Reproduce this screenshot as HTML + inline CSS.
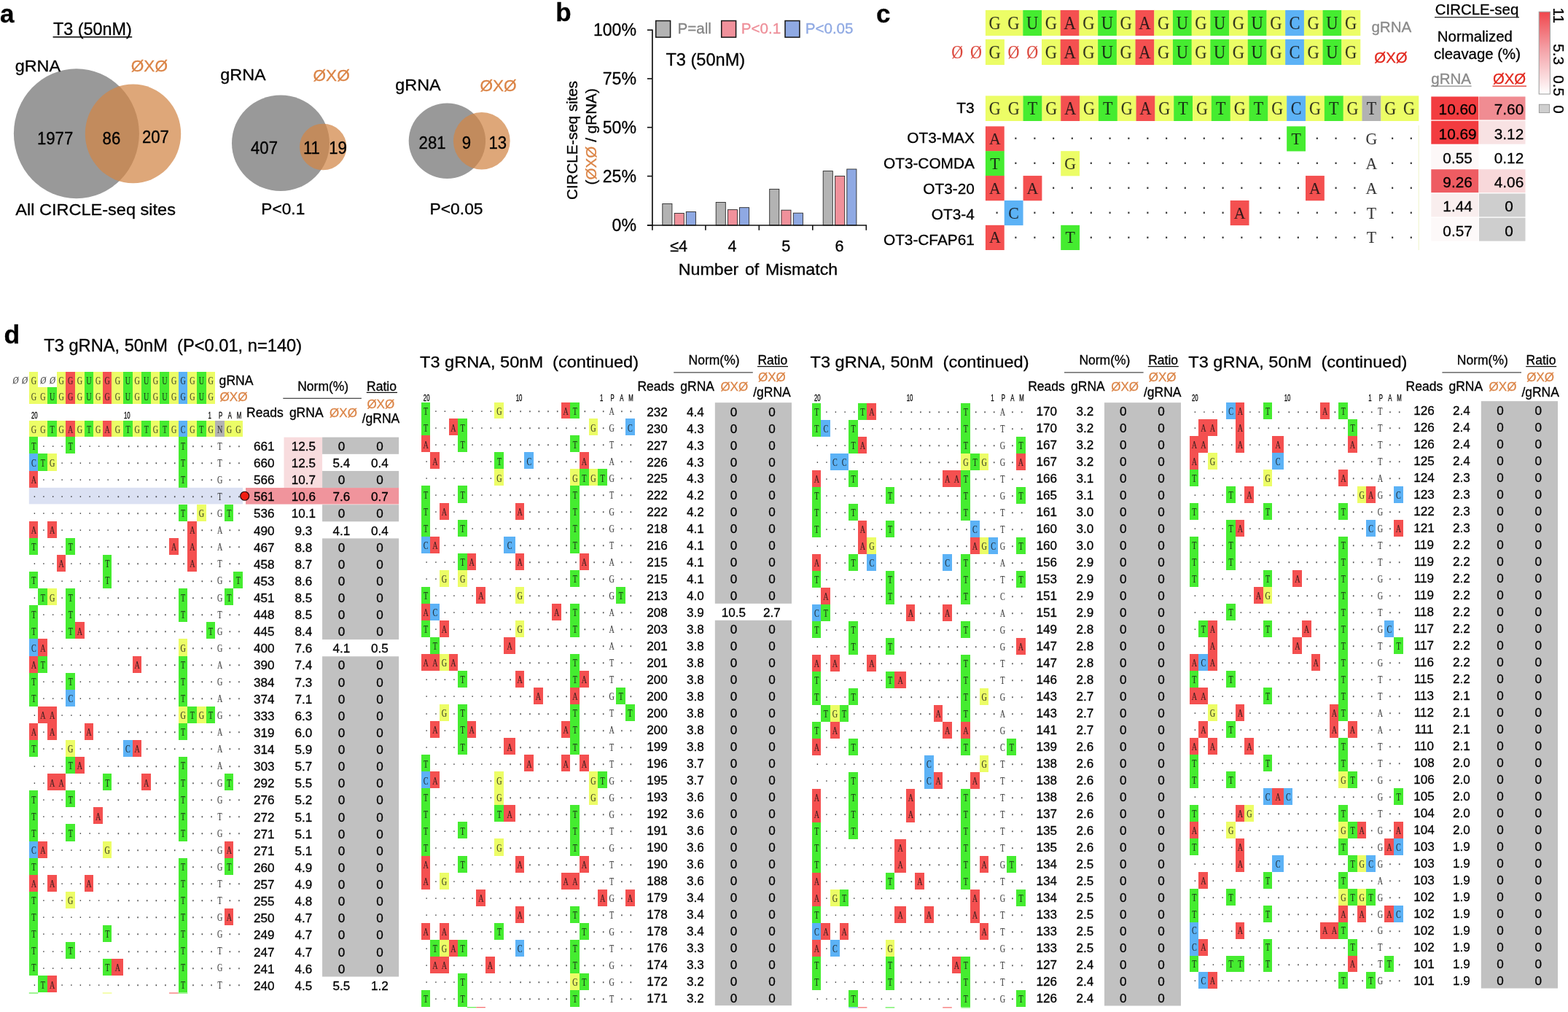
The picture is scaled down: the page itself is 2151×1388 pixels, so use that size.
<!DOCTYPE html>
<html lang="en"><head><meta charset="utf-8"><title>CIRCLE-seq figure</title>
<style>
html,body{margin:0;padding:0;background:#fff}
body{width:2151px;height:1388px;overflow:hidden}
svg{display:block}
text,tspan{fill:var(--c,#000);stroke:var(--c,#000);stroke-width:.3px}
text{font-family:"Liberation Sans", sans-serif;white-space:pre}
.b{font-weight:bold}
.m{font-family:"Liberation Mono", monospace;stroke-width:.12px}
.s{font-family:"Liberation Serif",serif;stroke-width:.1px}
.n{font-family:"Liberation Sans", sans-serif;font-size:12.6px}
.v{font-size:17.1px;text-anchor:middle}
</style></head>
<body>
<svg width="2151" height="1388" viewBox="0 0 2151 1388">
<rect width="2151" height="1388" fill="#fff"/>
<text x="0" y="30.7" class="b" font-size="35">a</text>
<text x="73" y="48.3" font-size="23.4">T3 (50nM)</text>
<line x1="72.6" y1="50.8" x2="181.2" y2="50.8" stroke="#000" stroke-width="1.4"/>
<ellipse cx="104.9" cy="183.2" rx="86" ry="89" fill="#999999"/>
<ellipse cx="182.5" cy="183.4" rx="65.7" ry="67.9" fill="#d18545" fill-opacity="0.72"/>
<text transform="translate(20.7 97.8) scale(1.04 1)" font-size="22.5">gRNA</text>
<text x="179.8" y="98.2" font-size="22.6" style="--c:#db8446">ØXØ</text>
<text transform="translate(75.6 197.8) scale(0.925 1)" font-size="24" text-anchor="middle">1977</text>
<text transform="translate(152.9 197.8) scale(0.925 1)" font-size="24" text-anchor="middle">86</text>
<text transform="translate(213.4 196) scale(0.925 1)" font-size="24" text-anchor="middle">207</text>
<text transform="translate(21.3 294.6) scale(1.08 1)" font-size="21.8">All CIRCLE-seq sites</text>
<ellipse cx="385" cy="196.3" rx="67" ry="65.8" fill="#999999"/>
<ellipse cx="443.2" cy="201.5" rx="32.2" ry="31.8" fill="#d18545" fill-opacity="0.72"/>
<text transform="translate(302.3 110.1) scale(1.04 1)" font-size="22.5">gRNA</text>
<text x="429.5" y="110.5" font-size="22.6" style="--c:#db8446">ØXØ</text>
<text transform="translate(362.5 211) scale(0.925 1)" font-size="24" text-anchor="middle">407</text>
<text transform="translate(427.4 211) scale(0.925 1)" font-size="24" text-anchor="middle">11</text>
<text transform="translate(463.6 211) scale(0.925 1)" font-size="24" text-anchor="middle">19</text>
<text transform="translate(388.3 294.4) scale(1.04 1)" font-size="21.8" text-anchor="middle">P&lt;0.1</text>
<ellipse cx="613.4" cy="193.3" rx="52.7" ry="51.7" fill="#999999"/>
<ellipse cx="660.8" cy="193.3" rx="38.9" ry="39.3" fill="#d18545" fill-opacity="0.72"/>
<text transform="translate(542.3 124.1) scale(1.04 1)" font-size="22.5">gRNA</text>
<text x="658.4" y="124.5" font-size="22.6" style="--c:#db8446">ØXØ</text>
<text transform="translate(593.1 203.5) scale(0.925 1)" font-size="24" text-anchor="middle">281</text>
<text transform="translate(640 203.5) scale(0.925 1)" font-size="24" text-anchor="middle">9</text>
<text transform="translate(682.8 203.5) scale(0.925 1)" font-size="24" text-anchor="middle">13</text>
<text transform="translate(626 294.4) scale(1.05 1)" font-size="21.8" text-anchor="middle">P&lt;0.05</text>
<text x="762.2" y="28.8" class="b" font-size="35">b</text>
<rect x="899.7" y="28.5" width="19.9" height="22.6" fill="#b3b3b3" stroke="#161616" stroke-width="1.5"/>
<text x="929.5" y="46.1" font-size="20.6" style="--c:#858585">P=all</text>
<rect x="989.7" y="28.5" width="19.9" height="22.6" fill="#f0919b" stroke="#161616" stroke-width="1.5"/>
<text x="1016.8" y="46.1" font-size="20.6" style="--c:#ee8f99">P&lt;0.1</text>
<rect x="1077" y="28.5" width="19.9" height="22.6" fill="#8fa9e3" stroke="#161616" stroke-width="1.5"/>
<text x="1104.7" y="46.1" font-size="20.6" style="--c:#8fa9e3">P&lt;0.05</text>
<text x="913.4" y="89.9" font-size="23.6">T3 (50nM)</text>
<rect x="908.8" y="279.5" width="13.1" height="29.5" fill="#b3b3b3" stroke="#2a2a2a" stroke-width="0.9"/>
<rect x="925.2" y="292.5" width="13.1" height="16.5" fill="#f0919b" stroke="#2a2a2a" stroke-width="0.9"/>
<rect x="941.3" y="290.5" width="13.1" height="18.5" fill="#8fa9e3" stroke="#2a2a2a" stroke-width="0.9"/>
<rect x="982.2" y="277.5" width="13.1" height="31.5" fill="#b3b3b3" stroke="#2a2a2a" stroke-width="0.9"/>
<rect x="998.4" y="287.6" width="13.1" height="21.4" fill="#f0919b" stroke="#2a2a2a" stroke-width="0.9"/>
<rect x="1014.5" y="284.7" width="13.1" height="24.3" fill="#8fa9e3" stroke="#2a2a2a" stroke-width="0.9"/>
<rect x="1055.7" y="259.4" width="13.1" height="49.6" fill="#b3b3b3" stroke="#2a2a2a" stroke-width="0.9"/>
<rect x="1071.9" y="288.2" width="13.1" height="20.8" fill="#f0919b" stroke="#2a2a2a" stroke-width="0.9"/>
<rect x="1088.3" y="292.2" width="13.1" height="16.8" fill="#8fa9e3" stroke="#2a2a2a" stroke-width="0.9"/>
<rect x="1129.2" y="234.6" width="13.1" height="74.4" fill="#b3b3b3" stroke="#2a2a2a" stroke-width="0.9"/>
<rect x="1145.6" y="241.5" width="13.1" height="67.5" fill="#f0919b" stroke="#2a2a2a" stroke-width="0.9"/>
<rect x="1161.8" y="232" width="13.1" height="77" fill="#8fa9e3" stroke="#2a2a2a" stroke-width="0.9"/>
<line x1="894.9" y1="40.4" x2="894.9" y2="309.8" stroke="#111" stroke-width="1.7"/>
<line x1="887.9" y1="309" x2="1189" y2="309" stroke="#111" stroke-width="1.7"/>
<line x1="887.9" y1="41.2" x2="894.9" y2="41.2" stroke="#111" stroke-width="1.6"/>
<text x="873" y="49.3" font-size="23.1" text-anchor="end">100%</text>
<line x1="887.9" y1="107.9" x2="894.9" y2="107.9" stroke="#111" stroke-width="1.6"/>
<text x="873" y="116" font-size="23.1" text-anchor="end">75%</text>
<line x1="887.9" y1="174.7" x2="894.9" y2="174.7" stroke="#111" stroke-width="1.6"/>
<text x="873" y="182.8" font-size="23.1" text-anchor="end">50%</text>
<line x1="887.9" y1="241.6" x2="894.9" y2="241.6" stroke="#111" stroke-width="1.6"/>
<text x="873" y="249.7" font-size="23.1" text-anchor="end">25%</text>
<line x1="887.9" y1="309" x2="894.9" y2="309" stroke="#111" stroke-width="1.6"/>
<text x="873" y="317.1" font-size="23.1" text-anchor="end">0%</text>
<line x1="894.9" y1="309" x2="894.9" y2="315.8" stroke="#111" stroke-width="1.6"/>
<line x1="967.9" y1="309" x2="967.9" y2="315.8" stroke="#111" stroke-width="1.6"/>
<line x1="1041.3" y1="309" x2="1041.3" y2="315.8" stroke="#111" stroke-width="1.6"/>
<line x1="1114.8" y1="309" x2="1114.8" y2="315.8" stroke="#111" stroke-width="1.6"/>
<line x1="1188.3" y1="309" x2="1188.3" y2="315.8" stroke="#111" stroke-width="1.6"/>
<text x="931.2" y="344.5" font-size="21.6" text-anchor="middle">≤4</text>
<text x="1004.4" y="344.5" font-size="21.6" text-anchor="middle">4</text>
<text x="1078.2" y="344.5" font-size="21.6" text-anchor="middle">5</text>
<text x="1151.4" y="344.5" font-size="21.6" text-anchor="middle">6</text>
<text transform="translate(1040 377.1) scale(1.07 1)" font-size="21.7" text-anchor="middle" word-spacing="2">Number of Mismatch</text>
<text x="791.6" y="192.4" font-size="20.5" text-anchor="middle" transform="rotate(-90 791.6 192.4)">CIRCLE-seq sites</text>
<text x="818" y="187.3" font-size="20.7" text-anchor="middle" transform="rotate(-90 818 187.3)">(<tspan style="--c:#db8446">ØXØ</tspan> / gRNA)</text>
<text x="1202" y="31.3" class="b" font-size="35">c</text>
<rect x="1351.9" y="13.9" width="51.71" height="35.1" fill="#ecfd66"/>
<rect x="1403.31" y="13.9" width="26" height="35.1" fill="#45ec30"/>
<rect x="1429.02" y="13.9" width="26" height="35.1" fill="#ecfd66"/>
<rect x="1454.72" y="13.9" width="26" height="35.1" fill="#f45050"/>
<rect x="1480.43" y="13.9" width="26" height="35.1" fill="#ecfd66"/>
<rect x="1506.13" y="13.9" width="26" height="35.1" fill="#45ec30"/>
<rect x="1531.84" y="13.9" width="26" height="35.1" fill="#ecfd66"/>
<rect x="1557.54" y="13.9" width="26" height="35.1" fill="#f45050"/>
<rect x="1583.25" y="13.9" width="26" height="35.1" fill="#ecfd66"/>
<rect x="1608.95" y="13.9" width="26" height="35.1" fill="#45ec30"/>
<rect x="1634.66" y="13.9" width="26" height="35.1" fill="#ecfd66"/>
<rect x="1660.36" y="13.9" width="26" height="35.1" fill="#45ec30"/>
<rect x="1686.07" y="13.9" width="26" height="35.1" fill="#ecfd66"/>
<rect x="1711.77" y="13.9" width="26" height="35.1" fill="#45ec30"/>
<rect x="1737.48" y="13.9" width="26" height="35.1" fill="#ecfd66"/>
<rect x="1763.18" y="13.9" width="26" height="35.1" fill="#5cb2f6"/>
<rect x="1788.88" y="13.9" width="26" height="35.1" fill="#ecfd66"/>
<rect x="1814.59" y="13.9" width="26" height="35.1" fill="#45ec30"/>
<rect x="1840.3" y="13.9" width="26" height="35.1" fill="#ecfd66"/>
<text class="s" transform="translate(0 40.2) scale(0.9 1)" x="1516.39 1544.95 1573.51 1602.08 1630.64 1659.2 1687.76 1716.32 1744.88 1773.44 1802 1830.56 1859.12 1887.69 1916.25 1944.81 1973.37 2001.93 2030.49 2059.05" font-size="25" text-anchor="middle" style="--c:#111" opacity="0.85">GGUGAGUGAGUGUGUGCGUG</text>
<rect x="1351.9" y="53.9" width="26" height="35.1" fill="#ecfd66"/>
<rect x="1429.02" y="53.9" width="26" height="35.1" fill="#ecfd66"/>
<rect x="1454.72" y="53.9" width="26" height="35.1" fill="#f45050"/>
<rect x="1480.43" y="53.9" width="26" height="35.1" fill="#ecfd66"/>
<rect x="1506.13" y="53.9" width="26" height="35.1" fill="#45ec30"/>
<rect x="1531.84" y="53.9" width="26" height="35.1" fill="#ecfd66"/>
<rect x="1557.54" y="53.9" width="26" height="35.1" fill="#f45050"/>
<rect x="1583.25" y="53.9" width="26" height="35.1" fill="#ecfd66"/>
<rect x="1608.95" y="53.9" width="26" height="35.1" fill="#45ec30"/>
<rect x="1634.66" y="53.9" width="26" height="35.1" fill="#ecfd66"/>
<rect x="1660.36" y="53.9" width="26" height="35.1" fill="#45ec30"/>
<rect x="1686.07" y="53.9" width="26" height="35.1" fill="#ecfd66"/>
<rect x="1711.77" y="53.9" width="26" height="35.1" fill="#45ec30"/>
<rect x="1737.48" y="53.9" width="26" height="35.1" fill="#ecfd66"/>
<rect x="1763.18" y="53.9" width="26" height="35.1" fill="#5cb2f6"/>
<rect x="1788.88" y="53.9" width="26" height="35.1" fill="#ecfd66"/>
<rect x="1814.59" y="53.9" width="26" height="35.1" fill="#45ec30"/>
<rect x="1840.3" y="53.9" width="26" height="35.1" fill="#ecfd66"/>
<text class="s" transform="translate(0 80.2) scale(0.9 1)" x="1516.39 1602.08 1630.64 1659.2 1687.76 1716.32 1744.88 1773.44 1802 1830.56 1859.12 1887.69 1916.25 1944.81 1973.37 2001.93 2030.49 2059.05" font-size="25" text-anchor="middle" style="--c:#111" opacity="0.85">GGAGUGAGUGUGUGCGUG</text>
<text class="s" transform="translate(0 80) scale(0.9 1)" x="1459.27" font-size="24.5" text-anchor="middle" style="--c:#d8362a" opacity="0.9">Ø</text>
<text class="s" transform="translate(0 80) scale(0.9 1)" x="1487.83" font-size="24.5" text-anchor="middle" style="--c:#d8362a" opacity="0.9">Ø</text>
<text class="s" transform="translate(0 80) scale(0.9 1)" x="1544.95" font-size="24.5" text-anchor="middle" style="--c:#d8362a" opacity="0.9">Ø</text>
<text class="s" transform="translate(0 80) scale(0.9 1)" x="1573.51" font-size="24.5" text-anchor="middle" style="--c:#d8362a" opacity="0.9">Ø</text>
<text x="1881.4" y="43.8" font-size="20.6" style="--c:#8a8a8a">gRNA</text>
<text x="1885.3" y="86.2" font-size="20.4" style="--c:#e2281e">ØXØ</text>
<rect x="1351.9" y="131.4" width="51.96" height="34.6" fill="#ecfd66"/>
<rect x="1403.56" y="131.4" width="26.13" height="34.6" fill="#45ec30"/>
<rect x="1429.39" y="131.4" width="26.13" height="34.6" fill="#ecfd66"/>
<rect x="1455.22" y="131.4" width="26.13" height="34.6" fill="#f45050"/>
<rect x="1481.05" y="131.4" width="26.13" height="34.6" fill="#ecfd66"/>
<rect x="1506.88" y="131.4" width="26.13" height="34.6" fill="#45ec30"/>
<rect x="1532.71" y="131.4" width="26.13" height="34.6" fill="#ecfd66"/>
<rect x="1558.54" y="131.4" width="26.13" height="34.6" fill="#f45050"/>
<rect x="1584.37" y="131.4" width="26.13" height="34.6" fill="#ecfd66"/>
<rect x="1610.2" y="131.4" width="26.13" height="34.6" fill="#45ec30"/>
<rect x="1636.03" y="131.4" width="26.13" height="34.6" fill="#ecfd66"/>
<rect x="1661.86" y="131.4" width="26.13" height="34.6" fill="#45ec30"/>
<rect x="1687.69" y="131.4" width="26.13" height="34.6" fill="#ecfd66"/>
<rect x="1713.52" y="131.4" width="26.13" height="34.6" fill="#45ec30"/>
<rect x="1739.35" y="131.4" width="26.13" height="34.6" fill="#ecfd66"/>
<rect x="1765.18" y="131.4" width="26.13" height="34.6" fill="#5cb2f6"/>
<rect x="1791.01" y="131.4" width="26.13" height="34.6" fill="#ecfd66"/>
<rect x="1816.84" y="131.4" width="26.13" height="34.6" fill="#45ec30"/>
<rect x="1842.67" y="131.4" width="26.13" height="34.6" fill="#ecfd66"/>
<rect x="1868.5" y="131.4" width="26.13" height="34.6" fill="#b2b2b2"/>
<rect x="1894.33" y="131.4" width="51.96" height="34.6" fill="#ecfd66"/>
<text class="s" transform="translate(0 157.3) scale(0.9 1)" x="1516.46 1545.16 1573.86 1602.56 1631.26 1659.96 1688.66 1717.36 1746.06 1774.76 1803.46 1832.16 1860.86 1889.56 1918.26 1946.96 1975.66 2004.36 2033.06 2061.76 2090.46 2119.16 2147.86" font-size="24.5" text-anchor="middle" style="--c:#111" opacity="0.85">GGTGAGTGAGTGTGTGCGTGTGG</text>
<text x="1336.8" y="154.8" font-size="21" text-anchor="end">T3</text>
<line x1="1946.2" y1="172" x2="1946.2" y2="343" stroke="#eef4c8" stroke-width="1"/>
<rect x="1351.9" y="173.3" width="25.83" height="34.18" fill="#f45050"/>
<rect x="1765.18" y="173.3" width="25.83" height="34.18" fill="#45ec30"/>
<text class="s" transform="translate(0 197.9) scale(0.95 1)" x="1436.65 1871.68 1980.44" font-size="23" text-anchor="middle" style="--c:#111" opacity="0.85">ATG</text>
<text class="m" transform="translate(1354.7 194.3) scale(1 1)" x="7.81" font-size="17" letter-spacing="15.63" style="--c:#111" opacity="0.85"> ··············· ··· ··</text>
<text x="1336.8" y="196.3" font-size="20.8" text-anchor="end">OT3-MAX</text>
<rect x="1351.9" y="207.18" width="25.83" height="34.18" fill="#45ec30"/>
<rect x="1455.22" y="207.18" width="25.83" height="34.18" fill="#ecfd66"/>
<text class="s" transform="translate(0 231.78) scale(0.95 1)" x="1436.65 1545.41 1980.44" font-size="23" text-anchor="middle" style="--c:#111" opacity="0.85">TGA</text>
<text class="m" transform="translate(1354.7 228.18) scale(1 1)" x="7.81" font-size="17" letter-spacing="15.63" style="--c:#111" opacity="0.85"> ··· ··············· ··</text>
<text x="1336.8" y="231.2" font-size="20.8" text-anchor="end">OT3-COMDA</text>
<rect x="1351.9" y="241.06" width="25.83" height="34.18" fill="#f45050"/>
<rect x="1403.56" y="241.06" width="25.83" height="34.18" fill="#f45050"/>
<rect x="1791.01" y="241.06" width="25.83" height="34.18" fill="#f45050"/>
<text class="s" transform="translate(0 265.66) scale(0.95 1)" x="1436.65 1491.03 1898.87 1980.44" font-size="23" text-anchor="middle" style="--c:#111" opacity="0.85">AAAA</text>
<text class="m" transform="translate(1354.7 262.06) scale(1 1)" x="7.81" font-size="17" letter-spacing="15.63" style="--c:#111" opacity="0.85"> · ·············· ·· ··</text>
<text x="1336.8" y="266.1" font-size="20.8" text-anchor="end">OT3-20</text>
<rect x="1377.73" y="274.94" width="25.83" height="34.18" fill="#5cb2f6"/>
<rect x="1687.69" y="274.94" width="25.83" height="34.18" fill="#f45050"/>
<text class="s" transform="translate(0 299.54) scale(0.95 1)" x="1463.84 1790.11 1980.44" font-size="23" text-anchor="middle" style="--c:#111" opacity="0.85">CAT</text>
<text class="m" transform="translate(1354.7 295.94) scale(1 1)" x="7.81" font-size="17" letter-spacing="15.63" style="--c:#111" opacity="0.85">· ··········· ······ ··</text>
<text x="1336.8" y="301" font-size="20.8" text-anchor="end">OT3-4</text>
<rect x="1351.9" y="308.82" width="25.83" height="34.18" fill="#f45050"/>
<rect x="1455.22" y="308.82" width="25.83" height="34.18" fill="#45ec30"/>
<text class="s" transform="translate(0 333.42) scale(0.95 1)" x="1436.65 1545.41 1980.44" font-size="23" text-anchor="middle" style="--c:#111" opacity="0.85">ATT</text>
<text class="m" transform="translate(1354.7 329.82) scale(1 1)" x="7.81" font-size="17" letter-spacing="15.63" style="--c:#111" opacity="0.85"> ··· ··············· ··</text>
<text x="1336.8" y="335.9" font-size="20.8" text-anchor="end">OT3-CFAP61</text>
<defs><linearGradient id="cb" x1="0" y1="0" x2="0" y2="1"><stop offset="0" stop-color="#f0464c"/><stop offset="0.45" stop-color="#f4a0a6"/><stop offset="1" stop-color="#ffffff"/></linearGradient></defs>
<rect x="1963.3" y="132.5" width="65" height="31.9" fill="#f23c40"/>
<rect x="2029" y="132.5" width="63.5" height="31.9" fill="#f08c92"/>
<text x="1999.6" y="157.4" font-size="20.8" text-anchor="middle">10.60</text>
<text x="2070" y="157.4" font-size="20.8" text-anchor="middle">7.60</text>
<rect x="1963.3" y="165.75" width="65" height="31.9" fill="#f23c40"/>
<rect x="2029" y="165.75" width="63.5" height="31.9" fill="#f8e2e3"/>
<text x="1999.6" y="190.65" font-size="20.8" text-anchor="middle">10.69</text>
<text x="2070" y="190.65" font-size="20.8" text-anchor="middle">3.12</text>
<rect x="1963.3" y="199" width="65" height="31.9" fill="#fdf8f8"/>
<rect x="2029" y="199" width="63.5" height="31.9" fill="#ffffff"/>
<text x="1999.6" y="223.9" font-size="20.8" text-anchor="middle">0.55</text>
<text x="2070" y="223.9" font-size="20.8" text-anchor="middle">0.12</text>
<rect x="1963.3" y="232.25" width="65" height="31.9" fill="#ee5c62"/>
<rect x="2029" y="232.25" width="63.5" height="31.9" fill="#f8d8da"/>
<text x="1999.6" y="257.15" font-size="20.8" text-anchor="middle">9.26</text>
<text x="2070" y="257.15" font-size="20.8" text-anchor="middle">4.06</text>
<rect x="1963.3" y="265.5" width="65" height="31.9" fill="#f9eeee"/>
<rect x="2029" y="265.5" width="63.5" height="31.9" fill="#cecece"/>
<text x="1999.6" y="290.4" font-size="20.8" text-anchor="middle">1.44</text>
<text x="2070" y="290.4" font-size="20.8" text-anchor="middle">0</text>
<rect x="1963.3" y="298.75" width="65" height="31.9" fill="#fdf9f9"/>
<rect x="2029" y="298.75" width="63.5" height="31.9" fill="#cecece"/>
<text x="1999.6" y="323.65" font-size="20.8" text-anchor="middle">0.57</text>
<text x="2070" y="323.65" font-size="20.8" text-anchor="middle">0</text>
<text x="1968.8" y="19.7" font-size="20.4">CIRCLE-seq</text>
<line x1="1968" y1="23.6" x2="2084" y2="23.6" stroke="#222" stroke-width="1.4"/>
<text x="2023.4" y="56.7" font-size="20.4" text-anchor="middle">Normalized</text>
<text x="2026.5" y="81.4" font-size="20.4" text-anchor="middle">cleavage (%)</text>
<text x="1963.3" y="115" font-size="20.5" style="--c:#8a8a8a">gRNA</text>
<line x1="1963" y1="118.2" x2="2018.6" y2="118.2" stroke="#8a8a8a" stroke-width="1.3"/>
<text x="2047.9" y="115" font-size="20.4" style="--c:#e2281e">ØXØ</text>
<line x1="2047.5" y1="118.2" x2="2094" y2="118.2" stroke="#e2281e" stroke-width="1.3"/>
<rect x="2111.2" y="16.2" width="15.2" height="112.8" fill="url(#cb)" stroke="#9a9a9a" stroke-width="1"/>
<rect x="2111.4" y="143.3" width="14.2" height="11.3" fill="#cfcfcf" stroke="#9a9a9a" stroke-width="1"/>
<text x="2130.6" y="21.2" font-size="20.6" text-anchor="middle" transform="rotate(90 2130.6 21.2)">11</text>
<text x="2130.6" y="74.6" font-size="20.6" text-anchor="middle" transform="rotate(90 2130.6 74.6)">5.3</text>
<text x="2130.6" y="117.6" font-size="20.6" text-anchor="middle" transform="rotate(90 2130.6 117.6)">0.5</text>
<text x="2130.6" y="150.1" font-size="20.6" text-anchor="middle" transform="rotate(90 2130.6 150.1)">0</text>
<text x="5.4" y="471.1" class="b" font-size="35.5">d</text>
<text transform="translate(60.2 481.5) scale(1.03 1)" font-size="23">T3 gRNA, 50nM  (P&lt;0.01, n=140)</text>
<rect x="40" y="510" width="12" height="21" fill="#ecfd66"/>
<rect x="78" y="510" width="12" height="21" fill="#ecfd66"/>
<rect x="90" y="510" width="13" height="21" fill="#f45050"/>
<rect x="103" y="510" width="13" height="21" fill="#ecfd66"/>
<rect x="116" y="510" width="12" height="21" fill="#45ec30"/>
<rect x="128" y="510" width="13" height="21" fill="#ecfd66"/>
<rect x="141" y="510" width="12" height="21" fill="#f45050"/>
<rect x="153" y="510" width="16" height="21" fill="#ecfd66"/>
<rect x="169" y="510" width="13" height="21" fill="#45ec30"/>
<rect x="182" y="510" width="12" height="21" fill="#ecfd66"/>
<rect x="194" y="510" width="13" height="21" fill="#45ec30"/>
<rect x="207" y="510" width="12" height="21" fill="#ecfd66"/>
<rect x="219" y="510" width="13" height="21" fill="#45ec30"/>
<rect x="232" y="510" width="13" height="21" fill="#ecfd66"/>
<rect x="245" y="510" width="12" height="21" fill="#5cb2f6"/>
<rect x="257" y="510" width="13" height="21" fill="#ecfd66"/>
<rect x="270" y="510" width="13" height="21" fill="#45ec30"/>
<rect x="283" y="510" width="12" height="21" fill="#ecfd66"/>
<rect x="40" y="531" width="25" height="23" fill="#ecfd66"/>
<rect x="65" y="531" width="13" height="23" fill="#45ec30"/>
<rect x="78" y="531" width="12" height="23" fill="#ecfd66"/>
<rect x="90" y="531" width="13" height="23" fill="#f45050"/>
<rect x="103" y="531" width="13" height="23" fill="#ecfd66"/>
<rect x="116" y="531" width="12" height="23" fill="#45ec30"/>
<rect x="128" y="531" width="13" height="23" fill="#ecfd66"/>
<rect x="141" y="531" width="12" height="23" fill="#f45050"/>
<rect x="153" y="531" width="16" height="23" fill="#ecfd66"/>
<rect x="169" y="531" width="13" height="23" fill="#45ec30"/>
<rect x="182" y="531" width="12" height="23" fill="#ecfd66"/>
<rect x="194" y="531" width="13" height="23" fill="#45ec30"/>
<rect x="207" y="531" width="12" height="23" fill="#ecfd66"/>
<rect x="219" y="531" width="13" height="23" fill="#45ec30"/>
<rect x="232" y="531" width="13" height="23" fill="#ecfd66"/>
<rect x="245" y="531" width="12" height="23" fill="#5cb2f6"/>
<rect x="257" y="531" width="13" height="23" fill="#ecfd66"/>
<rect x="270" y="531" width="13" height="23" fill="#45ec30"/>
<rect x="283" y="531" width="12" height="23" fill="#ecfd66"/>
<text class="s" transform="translate(0 526.6) scale(0.72 1)" x="64.32 116.9 134.43 151.96 169.49 187.01 204.54 224.15 243.76 261.29 278.82 296.35 313.87 331.4 348.93 366.46 383.99 401.51" font-size="14.1" text-anchor="middle" style="--c:#141414" opacity="0.8">GGGGUGGGUGUGUGGGUG</text>
<text class="s" transform="translate(0 548.6) scale(0.72 1)" x="64.32 81.85 99.38 116.9 134.43 151.96 169.49 187.01 204.54 224.15 243.76 261.29 278.82 296.35 313.87 331.4 348.93 366.46 383.99 401.51" font-size="14.1" text-anchor="middle" style="--c:#141414" opacity="0.8">GGUGGGUGGGUGUGUGGGUG</text>
<text class="s" transform="translate(20.87 526.3) scale(0.8 1) skewX(-12)" text-anchor="middle" font-size="13.6" style="--c:#444">Ø</text>
<text class="s" transform="translate(33.49 526.3) scale(0.8 1) skewX(-12)" text-anchor="middle" font-size="13.6" style="--c:#444">Ø</text>
<text class="s" transform="translate(58.73 526.3) scale(0.8 1) skewX(-12)" text-anchor="middle" font-size="13.6" style="--c:#444">Ø</text>
<text class="s" transform="translate(71.35 526.3) scale(0.8 1) skewX(-12)" text-anchor="middle" font-size="13.6" style="--c:#444">Ø</text>
<text x="300.6" y="527.6" font-size="17.6">gRNA</text>
<text x="301.5" y="549.6" font-size="17.2" style="--c:#db8446">ØXØ</text>
<text class="n" transform="translate(47.31 573.6) scale(0.62 1)" text-anchor="middle">20</text>
<text class="n" transform="translate(174.31 573.6) scale(0.62 1)" text-anchor="middle">10</text>
<text class="n" transform="translate(287.69 573.6) scale(0.62 1)" text-anchor="middle">1</text>
<text class="n" transform="translate(302.71 573.6) scale(0.62 1)" text-anchor="middle">P</text>
<text class="n" transform="translate(315.33 573.6) scale(0.62 1)" text-anchor="middle">A</text>
<text class="n" transform="translate(327.95 573.6) scale(0.62 1)" text-anchor="middle">M</text>
<rect x="40" y="577" width="25" height="22" fill="#ecfd66"/>
<rect x="65" y="577" width="13" height="22" fill="#45ec30"/>
<rect x="78" y="577" width="12" height="22" fill="#ecfd66"/>
<rect x="90" y="577" width="13" height="22" fill="#f45050"/>
<rect x="103" y="577" width="13" height="22" fill="#ecfd66"/>
<rect x="116" y="577" width="12" height="22" fill="#45ec30"/>
<rect x="128" y="577" width="13" height="22" fill="#ecfd66"/>
<rect x="141" y="577" width="12" height="22" fill="#f45050"/>
<rect x="153" y="577" width="16" height="22" fill="#ecfd66"/>
<rect x="169" y="577" width="13" height="22" fill="#45ec30"/>
<rect x="182" y="577" width="12" height="22" fill="#ecfd66"/>
<rect x="194" y="577" width="13" height="22" fill="#45ec30"/>
<rect x="207" y="577" width="12" height="22" fill="#ecfd66"/>
<rect x="219" y="577" width="13" height="22" fill="#45ec30"/>
<rect x="232" y="577" width="13" height="22" fill="#ecfd66"/>
<rect x="245" y="577" width="12" height="22" fill="#5cb2f6"/>
<rect x="257" y="577" width="13" height="22" fill="#ecfd66"/>
<rect x="270" y="577" width="13" height="22" fill="#45ec30"/>
<rect x="283" y="577" width="12" height="22" fill="#ecfd66"/>
<rect x="295" y="577" width="13" height="22" fill="#b2b2b2"/>
<rect x="308" y="577" width="25" height="22" fill="#ecfd66"/>
<text class="s" transform="translate(0 594.2) scale(0.72 1)" x="64.32 81.85 99.38 116.9 134.43 151.96 169.49 187.01 204.54 224.15 243.76 261.29 278.82 296.35 313.87 331.4 348.93 366.46 383.99 401.51 419.04 436.57 454.1" font-size="14.1" text-anchor="middle" style="--c:#141414" opacity="0.8">GGTGAGTGAGTGTGTGCGTGNGG</text>
<text x="408.2" y="536" font-size="17.5">Norm(%)</text>
<line x1="388.3" y1="546.3" x2="495.9" y2="546.3" stroke="#4a4a4a" stroke-width="1.3"/>
<text x="503.1" y="536" font-size="17.5">Ratio</text>
<line x1="502.8" y1="538.4" x2="545" y2="538.4" stroke="#111" stroke-width="1.2"/>
<text x="503.4" y="559.5" font-size="17" style="--c:#db8446">ØXØ</text>
<text x="496.7" y="580.4" font-size="17.5">/gRNA</text>
<text x="338.1" y="572.3" font-size="17.5">Reads</text>
<text x="396.9" y="572.3" font-size="17.5">gRNA</text>
<text x="452.1" y="572.3" font-size="17" style="--c:#db8446">ØXØ</text>
<rect x="389.5" y="599.7" width="52.6" height="69.36" fill="#f8dcde"/>
<rect x="442.1" y="599.7" width="105" height="23.12" fill="#c1c1c1"/>
<rect x="442.1" y="645.94" width="105" height="23.12" fill="#c1c1c1"/>
<rect x="442.1" y="692.18" width="105" height="23.12" fill="#c1c1c1"/>
<rect x="442.1" y="738.42" width="105" height="138.72" fill="#c1c1c1"/>
<rect x="442.1" y="900.26" width="105" height="439.28" fill="#c1c1c1"/>
<rect x="40" y="599" width="12" height="23" fill="#45ec30"/>
<rect x="90" y="599" width="13" height="23" fill="#45ec30"/>
<rect x="245" y="599" width="12" height="23" fill="#45ec30"/>
<text class="s" transform="translate(0 616.7) scale(0.72 1)" x="64.32 134.43 348.93 419.04" font-size="14.1" text-anchor="middle" style="--c:#141414" opacity="0.85">TTTT</text>
<text class="m" transform="translate(41 614.8) scale(1 1)" x="3.16" font-size="10.5" letter-spacing="6.32" style="--c:#1a1a1a" opacity="0.8"> ··· ····<tspan dx="1.5">·</tspan><tspan dx="1.5">······ ··· ··</tspan></text>
<text x="362.3" y="617.9" class="v">661</text>
<text x="416.4" y="617.9" class="v">12.5</text>
<text x="468.4" y="617.9" class="v">0</text>
<text x="520.9" y="617.9" class="v">0</text>
<rect x="40" y="622" width="12" height="24" fill="#5cb2f6"/>
<rect x="52" y="622" width="13" height="24" fill="#45ec30"/>
<rect x="65" y="622" width="13" height="24" fill="#ecfd66"/>
<rect x="245" y="622" width="12" height="24" fill="#45ec30"/>
<text class="s" transform="translate(0 639.79) scale(0.72 1)" x="64.32 81.85 99.38 348.93 419.04" font-size="14.1" text-anchor="middle" style="--c:#141414" opacity="0.85">CTGTT</text>
<text class="m" transform="translate(41 637.89) scale(1 1)" x="3.16" font-size="10.5" letter-spacing="6.32" style="--c:#1a1a1a" opacity="0.8">   ······<tspan dx="1.5">·</tspan><tspan dx="1.5">······ ··· ··</tspan></text>
<text x="362.3" y="641.02" class="v">660</text>
<text x="416.4" y="641.02" class="v">12.5</text>
<text x="468.4" y="641.02" class="v">5.4</text>
<text x="520.9" y="641.02" class="v">0.4</text>
<rect x="40" y="646" width="12" height="23" fill="#f45050"/>
<rect x="245" y="646" width="12" height="23" fill="#45ec30"/>
<text class="s" transform="translate(0 662.88) scale(0.72 1)" x="64.32 348.93 419.04" font-size="14.1" text-anchor="middle" style="--c:#141414" opacity="0.85">ATG</text>
<text class="m" transform="translate(41 660.98) scale(1 1)" x="3.16" font-size="10.5" letter-spacing="6.32" style="--c:#1a1a1a" opacity="0.8"> ········<tspan dx="1.5">·</tspan><tspan dx="1.5">······ ··· ··</tspan></text>
<text x="362.3" y="664.14" class="v">566</text>
<text x="416.4" y="664.14" class="v">10.7</text>
<text x="468.4" y="664.14" class="v">0</text>
<text x="520.9" y="664.14" class="v">0</text>
<rect x="39.8" y="668.87" width="293.26" height="22.49" fill="#dbe1f3"/>
<rect x="337" y="669.06" width="210.1" height="22.52" fill="#f0949c"/>
<circle cx="335.7" cy="680.27" r="6" fill="#f21d12" stroke="#2a0a0a" stroke-width="1.2"/>
<text class="s" transform="translate(0 685.97) scale(0.72 1)" x="419.04" font-size="14.1" text-anchor="middle" style="--c:#141414" opacity="0.85">T</text>
<text class="m" transform="translate(41 684.07) scale(1 1)" x="3.16" font-size="10.5" letter-spacing="6.32" style="--c:#1a1a1a" opacity="0.8">·········<tspan dx="1.5">·</tspan><tspan dx="1.5">·········· ··</tspan></text>
<text x="362.3" y="687.26" class="v">561</text>
<text x="416.4" y="687.26" class="v">10.6</text>
<text x="468.4" y="687.26" class="v">7.6</text>
<text x="520.9" y="687.26" class="v">0.7</text>
<rect x="245" y="692" width="12" height="23" fill="#45ec30"/>
<rect x="270" y="692" width="13" height="23" fill="#ecfd66"/>
<rect x="308" y="692" width="12" height="23" fill="#45ec30"/>
<text class="s" transform="translate(0 709.06) scale(0.72 1)" x="348.93 383.99 419.04 436.57" font-size="14.1" text-anchor="middle" style="--c:#141414" opacity="0.85">TGGT</text>
<text class="m" transform="translate(41 707.16) scale(1 1)" x="3.16" font-size="10.5" letter-spacing="6.32" style="--c:#1a1a1a" opacity="0.8">·········<tspan dx="1.5">·</tspan><tspan dx="1.5">······ · ·  ·</tspan></text>
<text x="362.3" y="710.38" class="v">536</text>
<text x="416.4" y="710.38" class="v">10.1</text>
<text x="468.4" y="710.38" class="v">0</text>
<text x="520.9" y="710.38" class="v">0</text>
<rect x="40" y="715" width="12" height="23" fill="#f45050"/>
<rect x="65" y="715" width="13" height="23" fill="#f45050"/>
<rect x="257" y="715" width="13" height="23" fill="#f45050"/>
<text class="s" transform="translate(0 732.15) scale(0.72 1)" x="64.32 99.38 366.46 419.04" font-size="14.1" text-anchor="middle" style="--c:#141414" opacity="0.85">AAAA</text>
<text class="m" transform="translate(41 730.25) scale(1 1)" x="3.16" font-size="10.5" letter-spacing="6.32" style="--c:#1a1a1a" opacity="0.8"> · ······<tspan dx="1.5">·</tspan><tspan dx="1.5">······· ·· ··</tspan></text>
<text x="362.3" y="733.5" class="v">490</text>
<text x="416.4" y="733.5" class="v">9.3</text>
<text x="468.4" y="733.5" class="v">4.1</text>
<text x="520.9" y="733.5" class="v">0.4</text>
<rect x="40" y="738" width="12" height="23" fill="#45ec30"/>
<rect x="90" y="738" width="13" height="23" fill="#45ec30"/>
<rect x="232" y="738" width="13" height="23" fill="#f45050"/>
<rect x="257" y="738" width="13" height="23" fill="#f45050"/>
<text class="s" transform="translate(0 755.24) scale(0.72 1)" x="64.32 134.43 331.4 366.46 419.04" font-size="14.1" text-anchor="middle" style="--c:#141414" opacity="0.85">TTAAA</text>
<text class="m" transform="translate(41 753.34) scale(1 1)" x="3.16" font-size="10.5" letter-spacing="6.32" style="--c:#1a1a1a" opacity="0.8"> ··· ····<tspan dx="1.5">·</tspan><tspan dx="1.5">····· · ·· ··</tspan></text>
<text x="362.3" y="756.62" class="v">467</text>
<text x="416.4" y="756.62" class="v">8.8</text>
<text x="468.4" y="756.62" class="v">0</text>
<text x="520.9" y="756.62" class="v">0</text>
<rect x="78" y="761" width="12" height="23" fill="#f45050"/>
<rect x="141" y="761" width="12" height="23" fill="#45ec30"/>
<rect x="257" y="761" width="13" height="23" fill="#f45050"/>
<text class="s" transform="translate(0 778.33) scale(0.72 1)" x="116.9 204.54 366.46 419.04" font-size="14.1" text-anchor="middle" style="--c:#141414" opacity="0.85">ATAT</text>
<text class="m" transform="translate(41 776.43) scale(1 1)" x="3.16" font-size="10.5" letter-spacing="6.32" style="--c:#1a1a1a" opacity="0.8">··· ···· <tspan dx="1.5">·</tspan><tspan dx="1.5">······· ·· ··</tspan></text>
<text x="362.3" y="779.74" class="v">458</text>
<text x="416.4" y="779.74" class="v">8.7</text>
<text x="468.4" y="779.74" class="v">0</text>
<text x="520.9" y="779.74" class="v">0</text>
<rect x="40" y="784" width="12" height="23" fill="#45ec30"/>
<rect x="141" y="784" width="12" height="23" fill="#45ec30"/>
<rect x="320" y="784" width="13" height="23" fill="#45ec30"/>
<text class="s" transform="translate(0 801.42) scale(0.72 1)" x="64.32 204.54 419.04 454.1" font-size="14.1" text-anchor="middle" style="--c:#141414" opacity="0.85">TTGT</text>
<text class="m" transform="translate(41 799.52) scale(1 1)" x="3.16" font-size="10.5" letter-spacing="6.32" style="--c:#1a1a1a" opacity="0.8"> ······· <tspan dx="1.5">·</tspan><tspan dx="1.5">·········· ·</tspan></text>
<text x="362.3" y="802.86" class="v">453</text>
<text x="416.4" y="802.86" class="v">8.6</text>
<text x="468.4" y="802.86" class="v">0</text>
<text x="520.9" y="802.86" class="v">0</text>
<rect x="52" y="807" width="13" height="23" fill="#45ec30"/>
<rect x="65" y="807" width="13" height="23" fill="#ecfd66"/>
<rect x="90" y="807" width="13" height="23" fill="#45ec30"/>
<rect x="245" y="807" width="12" height="23" fill="#45ec30"/>
<rect x="308" y="807" width="12" height="23" fill="#45ec30"/>
<text class="s" transform="translate(0 824.51) scale(0.72 1)" x="81.85 99.38 134.43 348.93 419.04 436.57" font-size="14.1" text-anchor="middle" style="--c:#141414" opacity="0.85">TGTTGT</text>
<text class="m" transform="translate(41 822.61) scale(1 1)" x="3.16" font-size="10.5" letter-spacing="6.32" style="--c:#1a1a1a" opacity="0.8">·  · ····<tspan dx="1.5">·</tspan><tspan dx="1.5">······ ···  ·</tspan></text>
<text x="362.3" y="825.98" class="v">451</text>
<text x="416.4" y="825.98" class="v">8.5</text>
<text x="468.4" y="825.98" class="v">0</text>
<text x="520.9" y="825.98" class="v">0</text>
<rect x="40" y="830" width="12" height="23" fill="#45ec30"/>
<rect x="90" y="830" width="13" height="23" fill="#45ec30"/>
<rect x="245" y="830" width="12" height="23" fill="#45ec30"/>
<text class="s" transform="translate(0 847.6) scale(0.72 1)" x="64.32 134.43 348.93 419.04" font-size="14.1" text-anchor="middle" style="--c:#141414" opacity="0.85">TTTT</text>
<text class="m" transform="translate(41 845.7) scale(1 1)" x="3.16" font-size="10.5" letter-spacing="6.32" style="--c:#1a1a1a" opacity="0.8"> ··· ····<tspan dx="1.5">·</tspan><tspan dx="1.5">······ ··· ··</tspan></text>
<text x="362.3" y="849.1" class="v">448</text>
<text x="416.4" y="849.1" class="v">8.5</text>
<text x="468.4" y="849.1" class="v">0</text>
<text x="520.9" y="849.1" class="v">0</text>
<rect x="40" y="853" width="12" height="23" fill="#45ec30"/>
<rect x="90" y="853" width="13" height="23" fill="#45ec30"/>
<rect x="103" y="853" width="13" height="23" fill="#f45050"/>
<rect x="283" y="853" width="12" height="23" fill="#45ec30"/>
<text class="s" transform="translate(0 870.69) scale(0.72 1)" x="64.32 134.43 151.96 401.51 419.04" font-size="14.1" text-anchor="middle" style="--c:#141414" opacity="0.85">TTATG</text>
<text class="m" transform="translate(41 868.79) scale(1 1)" x="3.16" font-size="10.5" letter-spacing="6.32" style="--c:#1a1a1a" opacity="0.8"> ···  ···<tspan dx="1.5">·</tspan><tspan dx="1.5">·········  ··</tspan></text>
<text x="362.3" y="872.22" class="v">445</text>
<text x="416.4" y="872.22" class="v">8.4</text>
<text x="468.4" y="872.22" class="v">0</text>
<text x="520.9" y="872.22" class="v">0</text>
<rect x="40" y="876" width="12" height="24" fill="#5cb2f6"/>
<rect x="52" y="876" width="13" height="24" fill="#f45050"/>
<rect x="245" y="876" width="12" height="24" fill="#ecfd66"/>
<text class="s" transform="translate(0 893.78) scale(0.72 1)" x="64.32 81.85 348.93 419.04" font-size="14.1" text-anchor="middle" style="--c:#141414" opacity="0.85">CAGG</text>
<text class="m" transform="translate(41 891.88) scale(1 1)" x="3.16" font-size="10.5" letter-spacing="6.32" style="--c:#1a1a1a" opacity="0.8">  ·······<tspan dx="1.5">·</tspan><tspan dx="1.5">······ ··· ··</tspan></text>
<text x="362.3" y="895.34" class="v">400</text>
<text x="416.4" y="895.34" class="v">7.6</text>
<text x="468.4" y="895.34" class="v">4.1</text>
<text x="520.9" y="895.34" class="v">0.5</text>
<rect x="40" y="900" width="12" height="23" fill="#f45050"/>
<rect x="52" y="900" width="13" height="23" fill="#45ec30"/>
<rect x="182" y="900" width="12" height="23" fill="#f45050"/>
<rect x="245" y="900" width="12" height="23" fill="#45ec30"/>
<text class="s" transform="translate(0 916.87) scale(0.72 1)" x="64.32 81.85 261.29 348.93 419.04" font-size="14.1" text-anchor="middle" style="--c:#141414" opacity="0.85">ATATA</text>
<text class="m" transform="translate(41 914.97) scale(1 1)" x="3.16" font-size="10.5" letter-spacing="6.32" style="--c:#1a1a1a" opacity="0.8">  ·······<tspan dx="1.5">·</tspan><tspan dx="1.5">· ···· ··· ··</tspan></text>
<text x="362.3" y="918.46" class="v">390</text>
<text x="416.4" y="918.46" class="v">7.4</text>
<text x="468.4" y="918.46" class="v">0</text>
<text x="520.9" y="918.46" class="v">0</text>
<rect x="40" y="923" width="12" height="23" fill="#45ec30"/>
<rect x="90" y="923" width="13" height="23" fill="#45ec30"/>
<rect x="245" y="923" width="12" height="23" fill="#45ec30"/>
<text class="s" transform="translate(0 939.96) scale(0.72 1)" x="64.32 134.43 348.93 419.04" font-size="14.1" text-anchor="middle" style="--c:#141414" opacity="0.85">TTTG</text>
<text class="m" transform="translate(41 938.06) scale(1 1)" x="3.16" font-size="10.5" letter-spacing="6.32" style="--c:#1a1a1a" opacity="0.8"> ··· ····<tspan dx="1.5">·</tspan><tspan dx="1.5">······ ··· ··</tspan></text>
<text x="362.3" y="941.58" class="v">384</text>
<text x="416.4" y="941.58" class="v">7.3</text>
<text x="468.4" y="941.58" class="v">0</text>
<text x="520.9" y="941.58" class="v">0</text>
<rect x="40" y="946" width="12" height="23" fill="#45ec30"/>
<rect x="90" y="946" width="13" height="23" fill="#5cb2f6"/>
<rect x="245" y="946" width="12" height="23" fill="#45ec30"/>
<text class="s" transform="translate(0 963.05) scale(0.72 1)" x="64.32 134.43 348.93 419.04" font-size="14.1" text-anchor="middle" style="--c:#141414" opacity="0.85">TCTA</text>
<text class="m" transform="translate(41 961.15) scale(1 1)" x="3.16" font-size="10.5" letter-spacing="6.32" style="--c:#1a1a1a" opacity="0.8"> ··· ····<tspan dx="1.5">·</tspan><tspan dx="1.5">······ ··· ··</tspan></text>
<text x="362.3" y="964.7" class="v">374</text>
<text x="416.4" y="964.7" class="v">7.1</text>
<text x="468.4" y="964.7" class="v">0</text>
<text x="520.9" y="964.7" class="v">0</text>
<rect x="52" y="969" width="26" height="23" fill="#f45050"/>
<rect x="245" y="969" width="12" height="23" fill="#ecfd66"/>
<rect x="257" y="969" width="13" height="23" fill="#45ec30"/>
<rect x="270" y="969" width="13" height="23" fill="#ecfd66"/>
<rect x="283" y="969" width="12" height="23" fill="#45ec30"/>
<text class="s" transform="translate(0 986.14) scale(0.72 1)" x="81.85 99.38 348.93 366.46 383.99 401.51 419.04" font-size="14.1" text-anchor="middle" style="--c:#141414" opacity="0.85">AAGTGTG</text>
<text class="m" transform="translate(41 984.24) scale(1 1)" x="3.16" font-size="10.5" letter-spacing="6.32" style="--c:#1a1a1a" opacity="0.8">·  ······<tspan dx="1.5">·</tspan><tspan dx="1.5">······     ··</tspan></text>
<text x="362.3" y="987.82" class="v">333</text>
<text x="416.4" y="987.82" class="v">6.3</text>
<text x="468.4" y="987.82" class="v">0</text>
<text x="520.9" y="987.82" class="v">0</text>
<rect x="40" y="992" width="12" height="23" fill="#f45050"/>
<rect x="65" y="992" width="13" height="23" fill="#f45050"/>
<rect x="116" y="992" width="12" height="23" fill="#f45050"/>
<rect x="245" y="992" width="12" height="23" fill="#45ec30"/>
<text class="s" transform="translate(0 1009.23) scale(0.72 1)" x="64.32 99.38 169.49 348.93 419.04" font-size="14.1" text-anchor="middle" style="--c:#141414" opacity="0.85">AAATA</text>
<text class="m" transform="translate(41 1007.33) scale(1 1)" x="3.16" font-size="10.5" letter-spacing="6.32" style="--c:#1a1a1a" opacity="0.8"> · ··· ··<tspan dx="1.5">·</tspan><tspan dx="1.5">······ ··· ··</tspan></text>
<text x="362.3" y="1010.94" class="v">319</text>
<text x="416.4" y="1010.94" class="v">6.0</text>
<text x="468.4" y="1010.94" class="v">0</text>
<text x="520.9" y="1010.94" class="v">0</text>
<rect x="40" y="1015" width="12" height="23" fill="#45ec30"/>
<rect x="90" y="1015" width="13" height="23" fill="#ecfd66"/>
<rect x="169" y="1015" width="13" height="23" fill="#5cb2f6"/>
<rect x="182" y="1015" width="12" height="23" fill="#f45050"/>
<text class="s" transform="translate(0 1032.32) scale(0.72 1)" x="64.32 134.43 243.76 261.29 419.04" font-size="14.1" text-anchor="middle" style="--c:#141414" opacity="0.85">TGCAA</text>
<text class="m" transform="translate(41 1030.42) scale(1 1)" x="3.16" font-size="10.5" letter-spacing="6.32" style="--c:#1a1a1a" opacity="0.8"> ··· ····<tspan dx="1.5">·</tspan><tspan dx="1.5">  ········ ··</tspan></text>
<text x="362.3" y="1034.06" class="v">314</text>
<text x="416.4" y="1034.06" class="v">5.9</text>
<text x="468.4" y="1034.06" class="v">0</text>
<text x="520.9" y="1034.06" class="v">0</text>
<rect x="90" y="1038" width="13" height="23" fill="#45ec30"/>
<rect x="103" y="1038" width="13" height="23" fill="#f45050"/>
<rect x="245" y="1038" width="12" height="23" fill="#45ec30"/>
<text class="s" transform="translate(0 1055.41) scale(0.72 1)" x="134.43 151.96 348.93 419.04" font-size="14.1" text-anchor="middle" style="--c:#141414" opacity="0.85">TATA</text>
<text class="m" transform="translate(41 1053.51) scale(1 1)" x="3.16" font-size="10.5" letter-spacing="6.32" style="--c:#1a1a1a" opacity="0.8">····  ···<tspan dx="1.5">·</tspan><tspan dx="1.5">······ ··· ··</tspan></text>
<text x="362.3" y="1057.18" class="v">303</text>
<text x="416.4" y="1057.18" class="v">5.7</text>
<text x="468.4" y="1057.18" class="v">0</text>
<text x="520.9" y="1057.18" class="v">0</text>
<rect x="65" y="1061" width="25" height="23" fill="#f45050"/>
<rect x="141" y="1061" width="12" height="23" fill="#45ec30"/>
<rect x="194" y="1061" width="13" height="23" fill="#f45050"/>
<rect x="245" y="1061" width="12" height="23" fill="#45ec30"/>
<rect x="308" y="1061" width="12" height="23" fill="#45ec30"/>
<text class="s" transform="translate(0 1078.5) scale(0.72 1)" x="99.38 116.9 204.54 278.82 348.93 419.04 436.57" font-size="14.1" text-anchor="middle" style="--c:#141414" opacity="0.85">AATATGT</text>
<text class="m" transform="translate(41 1076.6) scale(1 1)" x="3.16" font-size="10.5" letter-spacing="6.32" style="--c:#1a1a1a" opacity="0.8">··  ···· <tspan dx="1.5">·</tspan><tspan dx="1.5">·· ··· ···  ·</tspan></text>
<text x="362.3" y="1080.3" class="v">292</text>
<text x="416.4" y="1080.3" class="v">5.5</text>
<text x="468.4" y="1080.3" class="v">0</text>
<text x="520.9" y="1080.3" class="v">0</text>
<rect x="40" y="1084" width="12" height="23" fill="#45ec30"/>
<rect x="90" y="1084" width="13" height="23" fill="#45ec30"/>
<rect x="245" y="1084" width="12" height="23" fill="#45ec30"/>
<text class="s" transform="translate(0 1101.59) scale(0.72 1)" x="64.32 134.43 348.93 419.04" font-size="14.1" text-anchor="middle" style="--c:#141414" opacity="0.85">TTTG</text>
<text class="m" transform="translate(41 1099.69) scale(1 1)" x="3.16" font-size="10.5" letter-spacing="6.32" style="--c:#1a1a1a" opacity="0.8"> ··· ····<tspan dx="1.5">·</tspan><tspan dx="1.5">······ ··· ··</tspan></text>
<text x="362.3" y="1103.42" class="v">276</text>
<text x="416.4" y="1103.42" class="v">5.2</text>
<text x="468.4" y="1103.42" class="v">0</text>
<text x="520.9" y="1103.42" class="v">0</text>
<rect x="40" y="1107" width="12" height="23" fill="#45ec30"/>
<rect x="128" y="1107" width="13" height="23" fill="#f45050"/>
<rect x="245" y="1107" width="12" height="23" fill="#45ec30"/>
<text class="s" transform="translate(0 1124.68) scale(0.72 1)" x="64.32 187.01 348.93 419.04" font-size="14.1" text-anchor="middle" style="--c:#141414" opacity="0.85">TATT</text>
<text class="m" transform="translate(41 1122.78) scale(1 1)" x="3.16" font-size="10.5" letter-spacing="6.32" style="--c:#1a1a1a" opacity="0.8"> ······ ·<tspan dx="1.5">·</tspan><tspan dx="1.5">······ ··· ··</tspan></text>
<text x="362.3" y="1126.54" class="v">272</text>
<text x="416.4" y="1126.54" class="v">5.1</text>
<text x="468.4" y="1126.54" class="v">0</text>
<text x="520.9" y="1126.54" class="v">0</text>
<rect x="40" y="1130" width="12" height="24" fill="#45ec30"/>
<rect x="90" y="1130" width="13" height="24" fill="#45ec30"/>
<rect x="245" y="1130" width="12" height="24" fill="#45ec30"/>
<text class="s" transform="translate(0 1147.77) scale(0.72 1)" x="64.32 134.43 348.93 419.04" font-size="14.1" text-anchor="middle" style="--c:#141414" opacity="0.85">TTTG</text>
<text class="m" transform="translate(41 1145.87) scale(1 1)" x="3.16" font-size="10.5" letter-spacing="6.32" style="--c:#1a1a1a" opacity="0.8"> ··· ····<tspan dx="1.5">·</tspan><tspan dx="1.5">······ ··· ··</tspan></text>
<text x="362.3" y="1149.66" class="v">271</text>
<text x="416.4" y="1149.66" class="v">5.1</text>
<text x="468.4" y="1149.66" class="v">0</text>
<text x="520.9" y="1149.66" class="v">0</text>
<rect x="40" y="1154" width="12" height="23" fill="#5cb2f6"/>
<rect x="52" y="1154" width="13" height="23" fill="#f45050"/>
<rect x="141" y="1154" width="12" height="23" fill="#ecfd66"/>
<rect x="308" y="1154" width="12" height="23" fill="#f45050"/>
<text class="s" transform="translate(0 1170.86) scale(0.72 1)" x="64.32 81.85 204.54 419.04 436.57" font-size="14.1" text-anchor="middle" style="--c:#141414" opacity="0.85">CAGGA</text>
<text class="m" transform="translate(41 1168.96) scale(1 1)" x="3.16" font-size="10.5" letter-spacing="6.32" style="--c:#1a1a1a" opacity="0.8">  ······ <tspan dx="1.5">·</tspan><tspan dx="1.5">··········  ·</tspan></text>
<text x="362.3" y="1172.78" class="v">271</text>
<text x="416.4" y="1172.78" class="v">5.1</text>
<text x="468.4" y="1172.78" class="v">0</text>
<text x="520.9" y="1172.78" class="v">0</text>
<rect x="40" y="1177" width="12" height="23" fill="#45ec30"/>
<rect x="245" y="1177" width="12" height="23" fill="#45ec30"/>
<rect x="308" y="1177" width="12" height="23" fill="#45ec30"/>
<text class="s" transform="translate(0 1193.95) scale(0.72 1)" x="64.32 348.93 419.04 436.57" font-size="14.1" text-anchor="middle" style="--c:#141414" opacity="0.85">TTGT</text>
<text class="m" transform="translate(41 1192.05) scale(1 1)" x="3.16" font-size="10.5" letter-spacing="6.32" style="--c:#1a1a1a" opacity="0.8"> ········<tspan dx="1.5">·</tspan><tspan dx="1.5">······ ···  ·</tspan></text>
<text x="362.3" y="1195.9" class="v">260</text>
<text x="416.4" y="1195.9" class="v">4.9</text>
<text x="468.4" y="1195.9" class="v">0</text>
<text x="520.9" y="1195.9" class="v">0</text>
<rect x="40" y="1200" width="12" height="23" fill="#f45050"/>
<rect x="65" y="1200" width="13" height="23" fill="#f45050"/>
<rect x="116" y="1200" width="12" height="23" fill="#f45050"/>
<rect x="245" y="1200" width="12" height="23" fill="#45ec30"/>
<text class="s" transform="translate(0 1217.04) scale(0.72 1)" x="64.32 99.38 169.49 348.93 419.04" font-size="14.1" text-anchor="middle" style="--c:#141414" opacity="0.85">AAATT</text>
<text class="m" transform="translate(41 1215.14) scale(1 1)" x="3.16" font-size="10.5" letter-spacing="6.32" style="--c:#1a1a1a" opacity="0.8"> · ··· ··<tspan dx="1.5">·</tspan><tspan dx="1.5">······ ··· ··</tspan></text>
<text x="362.3" y="1219.02" class="v">257</text>
<text x="416.4" y="1219.02" class="v">4.9</text>
<text x="468.4" y="1219.02" class="v">0</text>
<text x="520.9" y="1219.02" class="v">0</text>
<rect x="40" y="1223" width="12" height="23" fill="#45ec30"/>
<rect x="90" y="1223" width="13" height="23" fill="#ecfd66"/>
<rect x="245" y="1223" width="12" height="23" fill="#45ec30"/>
<text class="s" transform="translate(0 1240.13) scale(0.72 1)" x="64.32 134.43 348.93 419.04" font-size="14.1" text-anchor="middle" style="--c:#141414" opacity="0.85">TGTT</text>
<text class="m" transform="translate(41 1238.23) scale(1 1)" x="3.16" font-size="10.5" letter-spacing="6.32" style="--c:#1a1a1a" opacity="0.8"> ··· ····<tspan dx="1.5">·</tspan><tspan dx="1.5">······ ··· ··</tspan></text>
<text x="362.3" y="1242.14" class="v">255</text>
<text x="416.4" y="1242.14" class="v">4.8</text>
<text x="468.4" y="1242.14" class="v">0</text>
<text x="520.9" y="1242.14" class="v">0</text>
<rect x="40" y="1246" width="12" height="23" fill="#45ec30"/>
<rect x="245" y="1246" width="12" height="23" fill="#45ec30"/>
<rect x="308" y="1246" width="12" height="23" fill="#f45050"/>
<text class="s" transform="translate(0 1263.22) scale(0.72 1)" x="64.32 348.93 419.04 436.57" font-size="14.1" text-anchor="middle" style="--c:#141414" opacity="0.85">TTGA</text>
<text class="m" transform="translate(41 1261.32) scale(1 1)" x="3.16" font-size="10.5" letter-spacing="6.32" style="--c:#1a1a1a" opacity="0.8"> ········<tspan dx="1.5">·</tspan><tspan dx="1.5">······ ···  ·</tspan></text>
<text x="362.3" y="1265.26" class="v">250</text>
<text x="416.4" y="1265.26" class="v">4.7</text>
<text x="468.4" y="1265.26" class="v">0</text>
<text x="520.9" y="1265.26" class="v">0</text>
<rect x="40" y="1269" width="12" height="23" fill="#45ec30"/>
<rect x="141" y="1269" width="12" height="23" fill="#45ec30"/>
<rect x="245" y="1269" width="12" height="23" fill="#45ec30"/>
<text class="s" transform="translate(0 1286.31) scale(0.72 1)" x="64.32 204.54 348.93 419.04" font-size="14.1" text-anchor="middle" style="--c:#141414" opacity="0.85">TTTG</text>
<text class="m" transform="translate(41 1284.41) scale(1 1)" x="3.16" font-size="10.5" letter-spacing="6.32" style="--c:#1a1a1a" opacity="0.8"> ······· <tspan dx="1.5">·</tspan><tspan dx="1.5">······ ··· ··</tspan></text>
<text x="362.3" y="1288.38" class="v">249</text>
<text x="416.4" y="1288.38" class="v">4.7</text>
<text x="468.4" y="1288.38" class="v">0</text>
<text x="520.9" y="1288.38" class="v">0</text>
<rect x="40" y="1292" width="12" height="23" fill="#45ec30"/>
<rect x="90" y="1292" width="13" height="23" fill="#45ec30"/>
<rect x="245" y="1292" width="12" height="23" fill="#45ec30"/>
<text class="s" transform="translate(0 1309.4) scale(0.72 1)" x="64.32 134.43 348.93 419.04" font-size="14.1" text-anchor="middle" style="--c:#141414" opacity="0.85">TTTT</text>
<text class="m" transform="translate(41 1307.5) scale(1 1)" x="3.16" font-size="10.5" letter-spacing="6.32" style="--c:#1a1a1a" opacity="0.8"> ··· ····<tspan dx="1.5">·</tspan><tspan dx="1.5">······ ··· ··</tspan></text>
<text x="362.3" y="1311.5" class="v">247</text>
<text x="416.4" y="1311.5" class="v">4.7</text>
<text x="468.4" y="1311.5" class="v">0</text>
<text x="520.9" y="1311.5" class="v">0</text>
<rect x="40" y="1315" width="12" height="23" fill="#45ec30"/>
<rect x="141" y="1315" width="12" height="23" fill="#45ec30"/>
<rect x="153" y="1315" width="16" height="23" fill="#f45050"/>
<rect x="245" y="1315" width="12" height="23" fill="#45ec30"/>
<text class="s" transform="translate(0 1332.49) scale(0.72 1)" x="64.32 204.54 224.15 348.93 419.04" font-size="14.1" text-anchor="middle" style="--c:#141414" opacity="0.85">TTATG</text>
<text class="m" transform="translate(41 1330.59) scale(1 1)" x="3.16" font-size="10.5" letter-spacing="6.32" style="--c:#1a1a1a" opacity="0.8"> ······· <tspan dx="1.5"> </tspan><tspan dx="1.5">······ ··· ··</tspan></text>
<text x="362.3" y="1334.62" class="v">241</text>
<text x="416.4" y="1334.62" class="v">4.6</text>
<text x="468.4" y="1334.62" class="v">0</text>
<text x="520.9" y="1334.62" class="v">0</text>
<rect x="52" y="1338" width="13" height="23" fill="#45ec30"/>
<rect x="65" y="1338" width="13" height="23" fill="#f45050"/>
<rect x="245" y="1338" width="12" height="23" fill="#45ec30"/>
<text class="s" transform="translate(0 1355.58) scale(0.72 1)" x="81.85 99.38 348.93 419.04" font-size="14.1" text-anchor="middle" style="--c:#141414" opacity="0.85">TATT</text>
<text class="m" transform="translate(41 1353.68) scale(1 1)" x="3.16" font-size="10.5" letter-spacing="6.32" style="--c:#1a1a1a" opacity="0.8">·  ······<tspan dx="1.5">·</tspan><tspan dx="1.5">······ ··· ··</tspan></text>
<text x="362.3" y="1357.74" class="v">240</text>
<text x="416.4" y="1357.74" class="v">4.5</text>
<text x="468.4" y="1357.74" class="v">5.5</text>
<text x="520.9" y="1357.74" class="v">1.2</text>
<rect x="39.8" y="1361.37" width="12.62" height="1.3" fill="#45ec30" fill-opacity="0.8"/>
<rect x="140.76" y="1361.37" width="12.62" height="1.3" fill="#ecfd66" fill-opacity="0.8"/>
<rect x="232.1" y="1361.37" width="12.62" height="1.3" fill="#f45050" fill-opacity="0.8"/>
<rect x="244.72" y="1361.37" width="12.62" height="1.3" fill="#45ec30" fill-opacity="0.8"/>
<text transform="translate(576 504.1) scale(1.03 1)" font-size="22.9">T3 gRNA, 50nM  (continued)</text>
<text x="944.6" y="500.2" font-size="17.5">Norm(%)</text>
<line x1="924.2" y1="510.9" x2="1032.8" y2="510.9" stroke="#4a4a4a" stroke-width="1.4"/>
<text x="1039.4" y="500.2" font-size="17.5">Ratio</text>
<line x1="1039" y1="502.6" x2="1081" y2="502.6" stroke="#111" stroke-width="1.2"/>
<text x="1040" y="522.8" font-size="17" style="--c:#db8446">ØXØ</text>
<text x="1033.2" y="543.7" font-size="17.5">/gRNA</text>
<text x="874.4" y="536.2" font-size="17.5">Reads</text>
<text x="933.3" y="536.2" font-size="17.5">gRNA</text>
<text x="988.4" y="536.2" font-size="17" style="--c:#db8446">ØXØ</text>
<text class="n" transform="translate(585.2 549.9) scale(0.62 1)" text-anchor="middle">20</text>
<text class="n" transform="translate(712 549.9) scale(0.62 1)" text-anchor="middle">10</text>
<text class="n" transform="translate(825.2 549.9) scale(0.62 1)" text-anchor="middle">1</text>
<text class="n" transform="translate(840.2 549.9) scale(0.62 1)" text-anchor="middle">P</text>
<text class="n" transform="translate(852.8 549.9) scale(0.62 1)" text-anchor="middle">A</text>
<text class="n" transform="translate(865.4 549.9) scale(0.62 1)" text-anchor="middle">M</text>
<rect x="980.8" y="552.2" width="105.2" height="275.64" fill="#c1c1c1"/>
<rect x="980.8" y="850.81" width="105.2" height="528.31" fill="#c1c1c1"/>
<rect x="578" y="552" width="12" height="22" fill="#45ec30"/>
<rect x="678" y="552" width="13" height="22" fill="#ecfd66"/>
<rect x="770" y="552" width="12" height="22" fill="#f45050"/>
<rect x="782" y="552" width="13" height="22" fill="#45ec30"/>
<text class="s" transform="translate(0 568.5) scale(0.72 1)" x="811.39 951.39 1078.06 1095.56 1165.56" font-size="14.1" text-anchor="middle" style="--c:#141414" opacity="0.85">TGATA</text>
<text class="m" transform="translate(578.9 566.6) scale(1 1)" x="3.15" font-size="10.5" letter-spacing="6.3" style="--c:#1a1a1a" opacity="0.8"> ······· <tspan dx="1.5">·</tspan><tspan dx="1.5">·····  ··· ··</tspan></text>
<text x="901.4" y="570.6" class="v">232</text>
<text x="953.9" y="570.6" class="v">4.4</text>
<text x="1006.5" y="570.6" class="v">0</text>
<text x="1059" y="570.6" class="v">0</text>
<rect x="578" y="574" width="12" height="23" fill="#45ec30"/>
<rect x="616" y="574" width="12" height="23" fill="#f45050"/>
<rect x="628" y="574" width="13" height="23" fill="#45ec30"/>
<rect x="808" y="574" width="12" height="23" fill="#ecfd66"/>
<rect x="858" y="574" width="13" height="23" fill="#5cb2f6"/>
<text class="s" transform="translate(0 591.55) scale(0.72 1)" x="811.39 863.89 881.39 1130.56 1165.56 1200.56" font-size="14.1" text-anchor="middle" style="--c:#141414" opacity="0.85">TATGGC</text>
<text class="m" transform="translate(578.9 589.65) scale(1 1)" x="3.15" font-size="10.5" letter-spacing="6.3" style="--c:#1a1a1a" opacity="0.8"> ··  ····<tspan dx="1.5">·</tspan><tspan dx="1.5">········ · ·</tspan></text>
<text x="901.4" y="593.57" class="v">230</text>
<text x="953.9" y="593.57" class="v">4.3</text>
<text x="1006.5" y="593.57" class="v">0</text>
<text x="1059" y="593.57" class="v">0</text>
<rect x="578" y="597" width="12" height="23" fill="#f45050"/>
<rect x="628" y="597" width="13" height="23" fill="#45ec30"/>
<rect x="782" y="597" width="13" height="23" fill="#45ec30"/>
<text class="s" transform="translate(0 614.6) scale(0.72 1)" x="811.39 881.39 1095.56 1165.56" font-size="14.1" text-anchor="middle" style="--c:#141414" opacity="0.85">ATTT</text>
<text class="m" transform="translate(578.9 612.7) scale(1 1)" x="3.15" font-size="10.5" letter-spacing="6.3" style="--c:#1a1a1a" opacity="0.8"> ··· ····<tspan dx="1.5">·</tspan><tspan dx="1.5">······ ··· ··</tspan></text>
<text x="901.4" y="616.54" class="v">227</text>
<text x="953.9" y="616.54" class="v">4.3</text>
<text x="1006.5" y="616.54" class="v">0</text>
<text x="1059" y="616.54" class="v">0</text>
<rect x="590" y="620" width="13" height="23" fill="#f45050"/>
<rect x="678" y="620" width="13" height="23" fill="#45ec30"/>
<rect x="719" y="620" width="13" height="23" fill="#5cb2f6"/>
<rect x="795" y="620" width="13" height="23" fill="#f45050"/>
<text class="s" transform="translate(0 637.65) scale(0.72 1)" x="828.89 951.39 1008.06 1113.06 1165.56" font-size="14.1" text-anchor="middle" style="--c:#141414" opacity="0.85">ATCAA</text>
<text class="m" transform="translate(578.9 635.75) scale(1 1)" x="3.15" font-size="10.5" letter-spacing="6.3" style="--c:#1a1a1a" opacity="0.8">· ······ <tspan dx="1.5">·</tspan><tspan dx="1.5">· ····· ·· ··</tspan></text>
<text x="901.4" y="639.51" class="v">226</text>
<text x="953.9" y="639.51" class="v">4.3</text>
<text x="1006.5" y="639.51" class="v">0</text>
<text x="1059" y="639.51" class="v">0</text>
<rect x="678" y="643" width="13" height="23" fill="#ecfd66"/>
<rect x="782" y="643" width="13" height="23" fill="#ecfd66"/>
<rect x="795" y="643" width="13" height="23" fill="#45ec30"/>
<rect x="808" y="643" width="12" height="23" fill="#ecfd66"/>
<rect x="820" y="643" width="13" height="23" fill="#45ec30"/>
<text class="s" transform="translate(0 660.7) scale(0.72 1)" x="951.39 1095.56 1113.06 1130.56 1148.06 1165.56" font-size="14.1" text-anchor="middle" style="--c:#141414" opacity="0.85">GGTGTG</text>
<text class="m" transform="translate(578.9 658.8) scale(1 1)" x="3.15" font-size="10.5" letter-spacing="6.3" style="--c:#1a1a1a" opacity="0.8">········ <tspan dx="1.5">·</tspan><tspan dx="1.5">······     ··</tspan></text>
<text x="901.4" y="662.48" class="v">225</text>
<text x="953.9" y="662.48" class="v">4.3</text>
<text x="1006.5" y="662.48" class="v">0</text>
<text x="1059" y="662.48" class="v">0</text>
<rect x="578" y="666" width="12" height="24" fill="#45ec30"/>
<rect x="628" y="666" width="13" height="24" fill="#45ec30"/>
<rect x="782" y="666" width="13" height="24" fill="#45ec30"/>
<text class="s" transform="translate(0 683.75) scale(0.72 1)" x="811.39 881.39 1095.56 1165.56" font-size="14.1" text-anchor="middle" style="--c:#141414" opacity="0.85">TTTT</text>
<text class="m" transform="translate(578.9 681.85) scale(1 1)" x="3.15" font-size="10.5" letter-spacing="6.3" style="--c:#1a1a1a" opacity="0.8"> ··· ····<tspan dx="1.5">·</tspan><tspan dx="1.5">······ ··· ··</tspan></text>
<text x="901.4" y="685.45" class="v">222</text>
<text x="953.9" y="685.45" class="v">4.2</text>
<text x="1006.5" y="685.45" class="v">0</text>
<text x="1059" y="685.45" class="v">0</text>
<rect x="578" y="690" width="12" height="23" fill="#45ec30"/>
<rect x="603" y="690" width="13" height="23" fill="#f45050"/>
<rect x="707" y="690" width="12" height="23" fill="#f45050"/>
<rect x="782" y="690" width="13" height="23" fill="#45ec30"/>
<text class="s" transform="translate(0 706.8) scale(0.72 1)" x="811.39 846.39 990.56 1095.56 1165.56" font-size="14.1" text-anchor="middle" style="--c:#141414" opacity="0.85">TAATG</text>
<text class="m" transform="translate(578.9 704.9) scale(1 1)" x="3.15" font-size="10.5" letter-spacing="6.3" style="--c:#1a1a1a" opacity="0.8"> · ······<tspan dx="1.5">·</tspan><tspan dx="1.5"> ····· ··· ··</tspan></text>
<text x="901.4" y="708.42" class="v">222</text>
<text x="953.9" y="708.42" class="v">4.2</text>
<text x="1006.5" y="708.42" class="v">0</text>
<text x="1059" y="708.42" class="v">0</text>
<rect x="578" y="713" width="12" height="23" fill="#45ec30"/>
<rect x="628" y="713" width="13" height="23" fill="#45ec30"/>
<rect x="782" y="713" width="13" height="23" fill="#45ec30"/>
<text class="s" transform="translate(0 729.85) scale(0.72 1)" x="811.39 881.39 1095.56 1165.56" font-size="14.1" text-anchor="middle" style="--c:#141414" opacity="0.85">TTTG</text>
<text class="m" transform="translate(578.9 727.95) scale(1 1)" x="3.15" font-size="10.5" letter-spacing="6.3" style="--c:#1a1a1a" opacity="0.8"> ··· ····<tspan dx="1.5">·</tspan><tspan dx="1.5">······ ··· ··</tspan></text>
<text x="901.4" y="731.39" class="v">218</text>
<text x="953.9" y="731.39" class="v">4.1</text>
<text x="1006.5" y="731.39" class="v">0</text>
<text x="1059" y="731.39" class="v">0</text>
<rect x="578" y="736" width="12" height="23" fill="#5cb2f6"/>
<rect x="590" y="736" width="13" height="23" fill="#f45050"/>
<rect x="691" y="736" width="16" height="23" fill="#5cb2f6"/>
<rect x="782" y="736" width="13" height="23" fill="#45ec30"/>
<text class="s" transform="translate(0 752.9) scale(0.72 1)" x="811.39 828.89 970.97 1095.56 1165.56" font-size="14.1" text-anchor="middle" style="--c:#141414" opacity="0.85">CACTT</text>
<text class="m" transform="translate(578.9 751) scale(1 1)" x="3.15" font-size="10.5" letter-spacing="6.3" style="--c:#1a1a1a" opacity="0.8">  ·······<tspan dx="1.5"> </tspan><tspan dx="1.5">······ ··· ··</tspan></text>
<text x="901.4" y="754.36" class="v">216</text>
<text x="953.9" y="754.36" class="v">4.1</text>
<text x="1006.5" y="754.36" class="v">0</text>
<text x="1059" y="754.36" class="v">0</text>
<rect x="628" y="759" width="13" height="23" fill="#45ec30"/>
<rect x="641" y="759" width="12" height="23" fill="#f45050"/>
<rect x="707" y="759" width="12" height="23" fill="#f45050"/>
<rect x="795" y="759" width="13" height="23" fill="#f45050"/>
<text class="s" transform="translate(0 775.95) scale(0.72 1)" x="881.39 898.89 990.56 1113.06 1165.56" font-size="14.1" text-anchor="middle" style="--c:#141414" opacity="0.85">TAAAA</text>
<text class="m" transform="translate(578.9 774.05) scale(1 1)" x="3.15" font-size="10.5" letter-spacing="6.3" style="--c:#1a1a1a" opacity="0.8">····  ···<tspan dx="1.5">·</tspan><tspan dx="1.5"> ······ ·· ··</tspan></text>
<text x="901.4" y="777.33" class="v">215</text>
<text x="953.9" y="777.33" class="v">4.1</text>
<text x="1006.5" y="777.33" class="v">0</text>
<text x="1059" y="777.33" class="v">0</text>
<rect x="603" y="782" width="13" height="23" fill="#ecfd66"/>
<rect x="628" y="782" width="13" height="23" fill="#ecfd66"/>
<rect x="782" y="782" width="13" height="23" fill="#45ec30"/>
<text class="s" transform="translate(0 799) scale(0.72 1)" x="846.39 881.39 1095.56 1165.56" font-size="14.1" text-anchor="middle" style="--c:#141414" opacity="0.85">GGTG</text>
<text class="m" transform="translate(578.9 797.1) scale(1 1)" x="3.15" font-size="10.5" letter-spacing="6.3" style="--c:#1a1a1a" opacity="0.8">·· · ····<tspan dx="1.5">·</tspan><tspan dx="1.5">······ ··· ··</tspan></text>
<text x="901.4" y="800.3" class="v">215</text>
<text x="953.9" y="800.3" class="v">4.1</text>
<text x="1006.5" y="800.3" class="v">0</text>
<text x="1059" y="800.3" class="v">0</text>
<rect x="578" y="805" width="12" height="23" fill="#45ec30"/>
<rect x="653" y="805" width="13" height="23" fill="#f45050"/>
<rect x="707" y="805" width="12" height="23" fill="#ecfd66"/>
<rect x="845" y="805" width="13" height="23" fill="#45ec30"/>
<text class="s" transform="translate(0 822.05) scale(0.72 1)" x="811.39 916.39 990.56 1165.56 1183.06" font-size="14.1" text-anchor="middle" style="--c:#141414" opacity="0.85">TAGGT</text>
<text class="m" transform="translate(578.9 820.15) scale(1 1)" x="3.15" font-size="10.5" letter-spacing="6.3" style="--c:#1a1a1a" opacity="0.8"> ····· ··<tspan dx="1.5">·</tspan><tspan dx="1.5"> ·········  ·</tspan></text>
<text x="901.4" y="823.27" class="v">213</text>
<text x="953.9" y="823.27" class="v">4.0</text>
<text x="1006.5" y="823.27" class="v">0</text>
<text x="1059" y="823.27" class="v">0</text>
<rect x="578" y="828" width="12" height="23" fill="#f45050"/>
<rect x="590" y="828" width="13" height="23" fill="#5cb2f6"/>
<rect x="757" y="828" width="13" height="23" fill="#f45050"/>
<rect x="782" y="828" width="13" height="23" fill="#45ec30"/>
<text class="s" transform="translate(0 845.1) scale(0.72 1)" x="811.39 828.89 1060.56 1095.56 1165.56" font-size="14.1" text-anchor="middle" style="--c:#141414" opacity="0.85">ACATA</text>
<text class="m" transform="translate(578.9 843.2) scale(1 1)" x="3.15" font-size="10.5" letter-spacing="6.3" style="--c:#1a1a1a" opacity="0.8">  ·······<tspan dx="1.5">·</tspan><tspan dx="1.5">···· · ··· ··</tspan></text>
<text x="901.4" y="846.24" class="v">208</text>
<text x="953.9" y="846.24" class="v">3.9</text>
<text x="1006.5" y="846.24" class="v">10.5</text>
<text x="1059" y="846.24" class="v">2.7</text>
<rect x="578" y="851" width="12" height="23" fill="#45ec30"/>
<rect x="603" y="851" width="13" height="23" fill="#f45050"/>
<rect x="707" y="851" width="12" height="23" fill="#ecfd66"/>
<rect x="782" y="851" width="13" height="23" fill="#45ec30"/>
<text class="s" transform="translate(0 868.15) scale(0.72 1)" x="811.39 846.39 990.56 1095.56 1165.56" font-size="14.1" text-anchor="middle" style="--c:#141414" opacity="0.85">TAGTA</text>
<text class="m" transform="translate(578.9 866.25) scale(1 1)" x="3.15" font-size="10.5" letter-spacing="6.3" style="--c:#1a1a1a" opacity="0.8"> · ······<tspan dx="1.5">·</tspan><tspan dx="1.5"> ····· ··· ··</tspan></text>
<text x="901.4" y="869.21" class="v">203</text>
<text x="953.9" y="869.21" class="v">3.8</text>
<text x="1006.5" y="869.21" class="v">0</text>
<text x="1059" y="869.21" class="v">0</text>
<rect x="590" y="874" width="13" height="23" fill="#45ec30"/>
<rect x="691" y="874" width="16" height="23" fill="#f45050"/>
<text class="s" transform="translate(0 891.2) scale(0.72 1)" x="828.89 970.97 1165.56" font-size="14.1" text-anchor="middle" style="--c:#141414" opacity="0.85">TAA</text>
<text class="m" transform="translate(578.9 889.3) scale(1 1)" x="3.15" font-size="10.5" letter-spacing="6.3" style="--c:#1a1a1a" opacity="0.8">· ·······<tspan dx="1.5"> </tspan><tspan dx="1.5">·········· ··</tspan></text>
<text x="901.4" y="892.18" class="v">201</text>
<text x="953.9" y="892.18" class="v">3.8</text>
<text x="1006.5" y="892.18" class="v">0</text>
<text x="1059" y="892.18" class="v">0</text>
<rect x="578" y="897" width="25" height="23" fill="#f45050"/>
<rect x="603" y="897" width="13" height="23" fill="#ecfd66"/>
<rect x="616" y="897" width="12" height="23" fill="#f45050"/>
<rect x="782" y="897" width="13" height="23" fill="#45ec30"/>
<text class="s" transform="translate(0 914.25) scale(0.72 1)" x="811.39 828.89 846.39 863.89 1095.56 1165.56" font-size="14.1" text-anchor="middle" style="--c:#141414" opacity="0.85">AAGATT</text>
<text class="m" transform="translate(578.9 912.35) scale(1 1)" x="3.15" font-size="10.5" letter-spacing="6.3" style="--c:#1a1a1a" opacity="0.8">    ·····<tspan dx="1.5">·</tspan><tspan dx="1.5">······ ··· ··</tspan></text>
<text x="901.4" y="915.15" class="v">201</text>
<text x="953.9" y="915.15" class="v">3.8</text>
<text x="1006.5" y="915.15" class="v">0</text>
<text x="1059" y="915.15" class="v">0</text>
<rect x="628" y="920" width="13" height="23" fill="#45ec30"/>
<rect x="707" y="920" width="12" height="23" fill="#f45050"/>
<rect x="782" y="920" width="13" height="23" fill="#45ec30"/>
<rect x="795" y="920" width="13" height="23" fill="#f45050"/>
<text class="s" transform="translate(0 937.3) scale(0.72 1)" x="881.39 990.56 1095.56 1113.06 1165.56" font-size="14.1" text-anchor="middle" style="--c:#141414" opacity="0.85">TATAT</text>
<text class="m" transform="translate(578.9 935.4) scale(1 1)" x="3.15" font-size="10.5" letter-spacing="6.3" style="--c:#1a1a1a" opacity="0.8">···· ····<tspan dx="1.5">·</tspan><tspan dx="1.5"> ·····  ·· ··</tspan></text>
<text x="901.4" y="938.12" class="v">200</text>
<text x="953.9" y="938.12" class="v">3.8</text>
<text x="1006.5" y="938.12" class="v">0</text>
<text x="1059" y="938.12" class="v">0</text>
<rect x="732" y="943" width="13" height="23" fill="#f45050"/>
<rect x="782" y="943" width="13" height="23" fill="#f45050"/>
<rect x="845" y="943" width="13" height="23" fill="#45ec30"/>
<text class="s" transform="translate(0 960.35) scale(0.72 1)" x="1025.56 1095.56 1165.56 1183.06" font-size="14.1" text-anchor="middle" style="--c:#141414" opacity="0.85">AAGT</text>
<text class="m" transform="translate(578.9 958.45) scale(1 1)" x="3.15" font-size="10.5" letter-spacing="6.3" style="--c:#1a1a1a" opacity="0.8">·········<tspan dx="1.5">·</tspan><tspan dx="1.5">·· ··· ···  ·</tspan></text>
<text x="901.4" y="961.09" class="v">200</text>
<text x="953.9" y="961.09" class="v">3.8</text>
<text x="1006.5" y="961.09" class="v">0</text>
<text x="1059" y="961.09" class="v">0</text>
<rect x="603" y="966" width="13" height="23" fill="#ecfd66"/>
<rect x="628" y="966" width="13" height="23" fill="#45ec30"/>
<rect x="782" y="966" width="13" height="23" fill="#45ec30"/>
<rect x="858" y="966" width="13" height="23" fill="#45ec30"/>
<text class="s" transform="translate(0 983.4) scale(0.72 1)" x="846.39 881.39 1095.56 1165.56 1200.56" font-size="14.1" text-anchor="middle" style="--c:#141414" opacity="0.85">GTTTT</text>
<text class="m" transform="translate(578.9 981.5) scale(1 1)" x="3.15" font-size="10.5" letter-spacing="6.3" style="--c:#1a1a1a" opacity="0.8">·· · ····<tspan dx="1.5">·</tspan><tspan dx="1.5">······ ··· ·</tspan></text>
<text x="901.4" y="984.06" class="v">200</text>
<text x="953.9" y="984.06" class="v">3.8</text>
<text x="1006.5" y="984.06" class="v">0</text>
<text x="1059" y="984.06" class="v">0</text>
<rect x="590" y="989" width="13" height="23" fill="#f45050"/>
<rect x="628" y="989" width="13" height="23" fill="#45ec30"/>
<rect x="641" y="989" width="12" height="23" fill="#f45050"/>
<rect x="770" y="989" width="12" height="23" fill="#f45050"/>
<rect x="782" y="989" width="13" height="23" fill="#45ec30"/>
<text class="s" transform="translate(0 1006.45) scale(0.72 1)" x="828.89 881.39 898.89 1078.06 1095.56 1165.56" font-size="14.1" text-anchor="middle" style="--c:#141414" opacity="0.85">ATAATA</text>
<text class="m" transform="translate(578.9 1004.55) scale(1 1)" x="3.15" font-size="10.5" letter-spacing="6.3" style="--c:#1a1a1a" opacity="0.8">· ··  ···<tspan dx="1.5">·</tspan><tspan dx="1.5">·····  ··· ··</tspan></text>
<text x="901.4" y="1007.03" class="v">200</text>
<text x="953.9" y="1007.03" class="v">3.8</text>
<text x="1006.5" y="1007.03" class="v">0</text>
<text x="1059" y="1007.03" class="v">0</text>
<rect x="628" y="1012" width="13" height="23" fill="#45ec30"/>
<rect x="691" y="1012" width="16" height="23" fill="#f45050"/>
<rect x="782" y="1012" width="13" height="23" fill="#45ec30"/>
<text class="s" transform="translate(0 1029.5) scale(0.72 1)" x="881.39 970.97 1095.56 1165.56" font-size="14.1" text-anchor="middle" style="--c:#141414" opacity="0.85">TATT</text>
<text class="m" transform="translate(578.9 1027.6) scale(1 1)" x="3.15" font-size="10.5" letter-spacing="6.3" style="--c:#1a1a1a" opacity="0.8">···· ····<tspan dx="1.5"> </tspan><tspan dx="1.5">······ ··· ··</tspan></text>
<text x="901.4" y="1030" class="v">199</text>
<text x="953.9" y="1030" class="v">3.8</text>
<text x="1006.5" y="1030" class="v">0</text>
<text x="1059" y="1030" class="v">0</text>
<rect x="578" y="1035" width="12" height="23" fill="#45ec30"/>
<rect x="719" y="1035" width="13" height="23" fill="#f45050"/>
<rect x="770" y="1035" width="12" height="23" fill="#f45050"/>
<rect x="795" y="1035" width="13" height="23" fill="#f45050"/>
<text class="s" transform="translate(0 1052.55) scale(0.72 1)" x="811.39 1008.06 1078.06 1113.06 1165.56" font-size="14.1" text-anchor="middle" style="--c:#141414" opacity="0.85">TAAAT</text>
<text class="m" transform="translate(578.9 1050.65) scale(1 1)" x="3.15" font-size="10.5" letter-spacing="6.3" style="--c:#1a1a1a" opacity="0.8"> ········<tspan dx="1.5">·</tspan><tspan dx="1.5">· ··· · ·· ··</tspan></text>
<text x="901.4" y="1052.97" class="v">196</text>
<text x="953.9" y="1052.97" class="v">3.7</text>
<text x="1006.5" y="1052.97" class="v">0</text>
<text x="1059" y="1052.97" class="v">0</text>
<rect x="578" y="1058" width="12" height="23" fill="#5cb2f6"/>
<rect x="590" y="1058" width="13" height="23" fill="#f45050"/>
<rect x="678" y="1058" width="13" height="23" fill="#ecfd66"/>
<rect x="808" y="1058" width="12" height="23" fill="#ecfd66"/>
<rect x="820" y="1058" width="13" height="23" fill="#45ec30"/>
<text class="s" transform="translate(0 1075.6) scale(0.72 1)" x="811.39 828.89 951.39 1130.56 1148.06 1165.56" font-size="14.1" text-anchor="middle" style="--c:#141414" opacity="0.85">CAGGTG</text>
<text class="m" transform="translate(578.9 1073.7) scale(1 1)" x="3.15" font-size="10.5" letter-spacing="6.3" style="--c:#1a1a1a" opacity="0.8">  ······ <tspan dx="1.5">·</tspan><tspan dx="1.5">········   ··</tspan></text>
<text x="901.4" y="1075.94" class="v">195</text>
<text x="953.9" y="1075.94" class="v">3.7</text>
<text x="1006.5" y="1075.94" class="v">0</text>
<text x="1059" y="1075.94" class="v">0</text>
<rect x="578" y="1081" width="12" height="23" fill="#45ec30"/>
<rect x="678" y="1081" width="13" height="23" fill="#ecfd66"/>
<rect x="808" y="1081" width="12" height="23" fill="#ecfd66"/>
<text class="s" transform="translate(0 1098.65) scale(0.72 1)" x="811.39 951.39 1130.56 1165.56" font-size="14.1" text-anchor="middle" style="--c:#141414" opacity="0.85">TGGG</text>
<text class="m" transform="translate(578.9 1096.75) scale(1 1)" x="3.15" font-size="10.5" letter-spacing="6.3" style="--c:#1a1a1a" opacity="0.8"> ······· <tspan dx="1.5">·</tspan><tspan dx="1.5">········ · ··</tspan></text>
<text x="901.4" y="1098.91" class="v">193</text>
<text x="953.9" y="1098.91" class="v">3.6</text>
<text x="1006.5" y="1098.91" class="v">0</text>
<text x="1059" y="1098.91" class="v">0</text>
<rect x="578" y="1104" width="12" height="23" fill="#45ec30"/>
<rect x="678" y="1104" width="13" height="23" fill="#45ec30"/>
<rect x="691" y="1104" width="16" height="23" fill="#f45050"/>
<rect x="782" y="1104" width="13" height="23" fill="#45ec30"/>
<text class="s" transform="translate(0 1121.7) scale(0.72 1)" x="811.39 951.39 970.97 1095.56 1165.56" font-size="14.1" text-anchor="middle" style="--c:#141414" opacity="0.85">TTATG</text>
<text class="m" transform="translate(578.9 1119.8) scale(1 1)" x="3.15" font-size="10.5" letter-spacing="6.3" style="--c:#1a1a1a" opacity="0.8"> ······· <tspan dx="1.5"> </tspan><tspan dx="1.5">······ ··· ··</tspan></text>
<text x="901.4" y="1121.88" class="v">192</text>
<text x="953.9" y="1121.88" class="v">3.6</text>
<text x="1006.5" y="1121.88" class="v">0</text>
<text x="1059" y="1121.88" class="v">0</text>
<rect x="578" y="1127" width="12" height="23" fill="#45ec30"/>
<rect x="628" y="1127" width="13" height="23" fill="#45ec30"/>
<rect x="782" y="1127" width="13" height="23" fill="#45ec30"/>
<text class="s" transform="translate(0 1144.75) scale(0.72 1)" x="811.39 881.39 1095.56 1165.56" font-size="14.1" text-anchor="middle" style="--c:#141414" opacity="0.85">TTTT</text>
<text class="m" transform="translate(578.9 1142.85) scale(1 1)" x="3.15" font-size="10.5" letter-spacing="6.3" style="--c:#1a1a1a" opacity="0.8"> ··· ····<tspan dx="1.5">·</tspan><tspan dx="1.5">······ ··· ··</tspan></text>
<text x="901.4" y="1144.85" class="v">191</text>
<text x="953.9" y="1144.85" class="v">3.6</text>
<text x="1006.5" y="1144.85" class="v">0</text>
<text x="1059" y="1144.85" class="v">0</text>
<rect x="578" y="1150" width="12" height="24" fill="#45ec30"/>
<rect x="678" y="1150" width="13" height="24" fill="#ecfd66"/>
<rect x="782" y="1150" width="13" height="24" fill="#45ec30"/>
<text class="s" transform="translate(0 1167.8) scale(0.72 1)" x="811.39 951.39 1095.56 1165.56" font-size="14.1" text-anchor="middle" style="--c:#141414" opacity="0.85">TGTG</text>
<text class="m" transform="translate(578.9 1165.9) scale(1 1)" x="3.15" font-size="10.5" letter-spacing="6.3" style="--c:#1a1a1a" opacity="0.8"> ······· <tspan dx="1.5">·</tspan><tspan dx="1.5">······ ··· ··</tspan></text>
<text x="901.4" y="1167.82" class="v">190</text>
<text x="953.9" y="1167.82" class="v">3.6</text>
<text x="1006.5" y="1167.82" class="v">0</text>
<text x="1059" y="1167.82" class="v">0</text>
<rect x="578" y="1174" width="12" height="23" fill="#f45050"/>
<rect x="628" y="1174" width="13" height="23" fill="#45ec30"/>
<rect x="707" y="1174" width="12" height="23" fill="#f45050"/>
<rect x="795" y="1174" width="13" height="23" fill="#f45050"/>
<text class="s" transform="translate(0 1190.85) scale(0.72 1)" x="811.39 881.39 990.56 1113.06 1165.56" font-size="14.1" text-anchor="middle" style="--c:#141414" opacity="0.85">ATAAT</text>
<text class="m" transform="translate(578.9 1188.95) scale(1 1)" x="3.15" font-size="10.5" letter-spacing="6.3" style="--c:#1a1a1a" opacity="0.8"> ··· ····<tspan dx="1.5">·</tspan><tspan dx="1.5"> ······ ·· ··</tspan></text>
<text x="901.4" y="1190.79" class="v">190</text>
<text x="953.9" y="1190.79" class="v">3.6</text>
<text x="1006.5" y="1190.79" class="v">0</text>
<text x="1059" y="1190.79" class="v">0</text>
<rect x="578" y="1197" width="12" height="23" fill="#f45050"/>
<rect x="603" y="1197" width="13" height="23" fill="#ecfd66"/>
<rect x="770" y="1197" width="25" height="23" fill="#f45050"/>
<text class="s" transform="translate(0 1213.9) scale(0.72 1)" x="811.39 846.39 1078.06 1095.56 1165.56" font-size="14.1" text-anchor="middle" style="--c:#141414" opacity="0.85">AGAAT</text>
<text class="m" transform="translate(578.9 1212) scale(1 1)" x="3.15" font-size="10.5" letter-spacing="6.3" style="--c:#1a1a1a" opacity="0.8"> · ······<tspan dx="1.5">·</tspan><tspan dx="1.5">·····  ··· ··</tspan></text>
<text x="901.4" y="1213.76" class="v">188</text>
<text x="953.9" y="1213.76" class="v">3.6</text>
<text x="1006.5" y="1213.76" class="v">0</text>
<text x="1059" y="1213.76" class="v">0</text>
<rect x="653" y="1220" width="13" height="23" fill="#f45050"/>
<rect x="820" y="1220" width="13" height="23" fill="#f45050"/>
<rect x="858" y="1220" width="13" height="23" fill="#f45050"/>
<text class="s" transform="translate(0 1236.95) scale(0.72 1)" x="916.39 1148.06 1165.56 1200.56" font-size="14.1" text-anchor="middle" style="--c:#141414" opacity="0.85">AAGA</text>
<text class="m" transform="translate(578.9 1235.05) scale(1 1)" x="3.15" font-size="10.5" letter-spacing="6.3" style="--c:#1a1a1a" opacity="0.8">······ ··<tspan dx="1.5">·</tspan><tspan dx="1.5">·········  ·</tspan></text>
<text x="901.4" y="1236.73" class="v">179</text>
<text x="953.9" y="1236.73" class="v">3.4</text>
<text x="1006.5" y="1236.73" class="v">0</text>
<text x="1059" y="1236.73" class="v">0</text>
<rect x="707" y="1243" width="12" height="23" fill="#f45050"/>
<rect x="782" y="1243" width="13" height="23" fill="#45ec30"/>
<text class="s" transform="translate(0 1260) scale(0.72 1)" x="990.56 1095.56 1165.56" font-size="14.1" text-anchor="middle" style="--c:#141414" opacity="0.85">ATT</text>
<text class="m" transform="translate(578.9 1258.1) scale(1 1)" x="3.15" font-size="10.5" letter-spacing="6.3" style="--c:#1a1a1a" opacity="0.8">·········<tspan dx="1.5">·</tspan><tspan dx="1.5"> ····· ··· ··</tspan></text>
<text x="901.4" y="1259.7" class="v">178</text>
<text x="953.9" y="1259.7" class="v">3.4</text>
<text x="1006.5" y="1259.7" class="v">0</text>
<text x="1059" y="1259.7" class="v">0</text>
<rect x="578" y="1266" width="12" height="23" fill="#f45050"/>
<rect x="603" y="1266" width="13" height="23" fill="#f45050"/>
<rect x="678" y="1266" width="13" height="23" fill="#45ec30"/>
<rect x="795" y="1266" width="13" height="23" fill="#45ec30"/>
<text class="s" transform="translate(0 1283.05) scale(0.72 1)" x="811.39 846.39 951.39 1113.06 1165.56" font-size="14.1" text-anchor="middle" style="--c:#141414" opacity="0.85">AATTG</text>
<text class="m" transform="translate(578.9 1281.15) scale(1 1)" x="3.15" font-size="10.5" letter-spacing="6.3" style="--c:#1a1a1a" opacity="0.8"> · ····· <tspan dx="1.5">·</tspan><tspan dx="1.5">······· ·· ··</tspan></text>
<text x="901.4" y="1282.67" class="v">178</text>
<text x="953.9" y="1282.67" class="v">3.4</text>
<text x="1006.5" y="1282.67" class="v">0</text>
<text x="1059" y="1282.67" class="v">0</text>
<rect x="590" y="1289" width="13" height="23" fill="#45ec30"/>
<rect x="603" y="1289" width="13" height="23" fill="#ecfd66"/>
<rect x="616" y="1289" width="12" height="23" fill="#f45050"/>
<rect x="628" y="1289" width="13" height="23" fill="#45ec30"/>
<rect x="707" y="1289" width="12" height="23" fill="#5cb2f6"/>
<rect x="782" y="1289" width="13" height="23" fill="#45ec30"/>
<text class="s" transform="translate(0 1306.1) scale(0.72 1)" x="828.89 846.39 863.89 881.39 990.56 1095.56 1165.56" font-size="14.1" text-anchor="middle" style="--c:#141414" opacity="0.85">TGATCTT</text>
<text class="m" transform="translate(578.9 1304.2) scale(1 1)" x="3.15" font-size="10.5" letter-spacing="6.3" style="--c:#1a1a1a" opacity="0.8">·    ····<tspan dx="1.5">·</tspan><tspan dx="1.5"> ····· ··· ··</tspan></text>
<text x="901.4" y="1305.64" class="v">176</text>
<text x="953.9" y="1305.64" class="v">3.3</text>
<text x="1006.5" y="1305.64" class="v">0</text>
<text x="1059" y="1305.64" class="v">0</text>
<rect x="590" y="1312" width="26" height="23" fill="#f45050"/>
<rect x="666" y="1312" width="13" height="23" fill="#f45050"/>
<rect x="782" y="1312" width="13" height="23" fill="#45ec30"/>
<text class="s" transform="translate(0 1329.15) scale(0.72 1)" x="828.89 846.39 933.89 1095.56 1165.56" font-size="14.1" text-anchor="middle" style="--c:#141414" opacity="0.85">AAATG</text>
<text class="m" transform="translate(578.9 1327.25) scale(1 1)" x="3.15" font-size="10.5" letter-spacing="6.3" style="--c:#1a1a1a" opacity="0.8">·  ···· ·<tspan dx="1.5">·</tspan><tspan dx="1.5">······ ··· ··</tspan></text>
<text x="901.4" y="1328.61" class="v">174</text>
<text x="953.9" y="1328.61" class="v">3.3</text>
<text x="1006.5" y="1328.61" class="v">0</text>
<text x="1059" y="1328.61" class="v">0</text>
<rect x="628" y="1335" width="13" height="23" fill="#45ec30"/>
<rect x="782" y="1335" width="13" height="23" fill="#ecfd66"/>
<rect x="795" y="1335" width="13" height="23" fill="#45ec30"/>
<text class="s" transform="translate(0 1352.2) scale(0.72 1)" x="881.39 1095.56 1113.06 1165.56" font-size="14.1" text-anchor="middle" style="--c:#141414" opacity="0.85">TGTG</text>
<text class="m" transform="translate(578.9 1350.3) scale(1 1)" x="3.15" font-size="10.5" letter-spacing="6.3" style="--c:#1a1a1a" opacity="0.8">···· ····<tspan dx="1.5">·</tspan><tspan dx="1.5">······  ·· ··</tspan></text>
<text x="901.4" y="1351.58" class="v">172</text>
<text x="953.9" y="1351.58" class="v">3.2</text>
<text x="1006.5" y="1351.58" class="v">0</text>
<text x="1059" y="1351.58" class="v">0</text>
<rect x="578" y="1358" width="12" height="23" fill="#45ec30"/>
<rect x="628" y="1358" width="13" height="23" fill="#45ec30"/>
<rect x="782" y="1358" width="13" height="23" fill="#45ec30"/>
<text class="s" transform="translate(0 1375.25) scale(0.72 1)" x="811.39 881.39 1095.56 1165.56" font-size="14.1" text-anchor="middle" style="--c:#141414" opacity="0.85">TTTT</text>
<text class="m" transform="translate(578.9 1373.35) scale(1 1)" x="3.15" font-size="10.5" letter-spacing="6.3" style="--c:#1a1a1a" opacity="0.8"> ··· ····<tspan dx="1.5">·</tspan><tspan dx="1.5">······ ··· ··</tspan></text>
<text x="901.4" y="1374.55" class="v">171</text>
<text x="953.9" y="1374.55" class="v">3.2</text>
<text x="1006.5" y="1374.55" class="v">0</text>
<text x="1059" y="1374.55" class="v">0</text>
<rect x="640.7" y="1381" width="12.6" height="1.3" fill="#45ec30" fill-opacity="0.8"/>
<rect x="653.3" y="1381" width="12.6" height="1.3" fill="#f45050" fill-opacity="0.8"/>
<text transform="translate(1111.5 504.1) scale(1.03 1)" font-size="22.9">T3 gRNA, 50nM  (continued)</text>
<text x="1480.4" y="500.2" font-size="17.5">Norm(%)</text>
<line x1="1460" y1="510.9" x2="1568.6" y2="510.9" stroke="#4a4a4a" stroke-width="1.4"/>
<text x="1575.2" y="500.2" font-size="17.5">Ratio</text>
<line x1="1574.8" y1="502.6" x2="1616.8" y2="502.6" stroke="#111" stroke-width="1.2"/>
<text x="1575.8" y="522.8" font-size="17" style="--c:#db8446">ØXØ</text>
<text x="1569" y="543.7" font-size="17.5">/gRNA</text>
<text x="1410.2" y="536.2" font-size="17.5">Reads</text>
<text x="1469.1" y="536.2" font-size="17.5">gRNA</text>
<text x="1524.2" y="536.2" font-size="17" style="--c:#db8446">ØXØ</text>
<text class="n" transform="translate(1121.3 550.3) scale(0.62 1)" text-anchor="middle">20</text>
<text class="n" transform="translate(1248.1 550.3) scale(0.62 1)" text-anchor="middle">10</text>
<text class="n" transform="translate(1361.3 550.3) scale(0.62 1)" text-anchor="middle">1</text>
<text class="n" transform="translate(1376.3 550.3) scale(0.62 1)" text-anchor="middle">P</text>
<text class="n" transform="translate(1388.9 550.3) scale(0.62 1)" text-anchor="middle">A</text>
<text class="n" transform="translate(1401.5 550.3) scale(0.62 1)" text-anchor="middle">M</text>
<rect x="1515" y="552.2" width="105" height="827.28" fill="#c1c1c1"/>
<rect x="1114" y="553" width="12" height="23" fill="#45ec30"/>
<rect x="1177" y="553" width="12" height="23" fill="#45ec30"/>
<rect x="1189" y="553" width="13" height="23" fill="#f45050"/>
<rect x="1318" y="553" width="13" height="23" fill="#45ec30"/>
<text class="s" transform="translate(0 569.8) scale(0.72 1)" x="1555.97 1643.47 1660.97 1840.14 1910.14" font-size="14.1" text-anchor="middle" style="--c:#141414" opacity="0.85">TTATA</text>
<text class="m" transform="translate(1115 567.9) scale(1 1)" x="3.15" font-size="10.5" letter-spacing="6.3" style="--c:#1a1a1a" opacity="0.8"> ····  ··<tspan dx="1.5">·</tspan><tspan dx="1.5">······ ··· ··</tspan></text>
<text x="1435.8" y="570.4" class="v">170</text>
<text x="1488.3" y="570.4" class="v">3.2</text>
<text x="1540.8" y="570.4" class="v">0</text>
<text x="1593.1" y="570.4" class="v">0</text>
<rect x="1114" y="576" width="12" height="23" fill="#45ec30"/>
<rect x="1126" y="576" width="13" height="23" fill="#5cb2f6"/>
<rect x="1164" y="576" width="13" height="23" fill="#45ec30"/>
<rect x="1318" y="576" width="13" height="23" fill="#45ec30"/>
<text class="s" transform="translate(0 592.8) scale(0.72 1)" x="1555.97 1573.47 1625.97 1840.14 1910.14" font-size="14.1" text-anchor="middle" style="--c:#141414" opacity="0.85">TCTTT</text>
<text class="m" transform="translate(1115 590.9) scale(1 1)" x="3.15" font-size="10.5" letter-spacing="6.3" style="--c:#1a1a1a" opacity="0.8">  ·· ····<tspan dx="1.5">·</tspan><tspan dx="1.5">······ ··· ··</tspan></text>
<text x="1435.8" y="593.38" class="v">170</text>
<text x="1488.3" y="593.38" class="v">3.2</text>
<text x="1540.8" y="593.38" class="v">0</text>
<text x="1593.1" y="593.38" class="v">0</text>
<rect x="1164" y="599" width="13" height="23" fill="#45ec30"/>
<rect x="1177" y="599" width="12" height="23" fill="#f45050"/>
<rect x="1318" y="599" width="13" height="23" fill="#45ec30"/>
<rect x="1394" y="599" width="13" height="23" fill="#45ec30"/>
<text class="s" transform="translate(0 615.8) scale(0.72 1)" x="1625.97 1643.47 1840.14 1910.14 1945.14" font-size="14.1" text-anchor="middle" style="--c:#141414" opacity="0.85">TATGT</text>
<text class="m" transform="translate(1115 613.9) scale(1 1)" x="3.15" font-size="10.5" letter-spacing="6.3" style="--c:#1a1a1a" opacity="0.8">····  ···<tspan dx="1.5">·</tspan><tspan dx="1.5">······ ··· ·</tspan></text>
<text x="1435.8" y="616.36" class="v">167</text>
<text x="1488.3" y="616.36" class="v">3.2</text>
<text x="1540.8" y="616.36" class="v">0</text>
<text x="1593.1" y="616.36" class="v">0</text>
<rect x="1139" y="622" width="25" height="23" fill="#5cb2f6"/>
<rect x="1318" y="622" width="13" height="23" fill="#ecfd66"/>
<rect x="1331" y="622" width="13" height="23" fill="#45ec30"/>
<rect x="1344" y="622" width="12" height="23" fill="#ecfd66"/>
<rect x="1394" y="622" width="13" height="23" fill="#f45050"/>
<text class="s" transform="translate(0 638.8) scale(0.72 1)" x="1590.97 1608.47 1840.14 1857.64 1875.14 1910.14 1945.14" font-size="14.1" text-anchor="middle" style="--c:#141414" opacity="0.85">CCGTGGA</text>
<text class="m" transform="translate(1115 636.9) scale(1 1)" x="3.15" font-size="10.5" letter-spacing="6.3" style="--c:#1a1a1a" opacity="0.8">··  ·····<tspan dx="1.5">·</tspan><tspan dx="1.5">······   · ·</tspan></text>
<text x="1435.8" y="639.34" class="v">167</text>
<text x="1488.3" y="639.34" class="v">3.2</text>
<text x="1540.8" y="639.34" class="v">0</text>
<text x="1593.1" y="639.34" class="v">0</text>
<rect x="1114" y="645" width="12" height="23" fill="#f45050"/>
<rect x="1164" y="645" width="13" height="23" fill="#45ec30"/>
<rect x="1293" y="645" width="25" height="23" fill="#f45050"/>
<rect x="1318" y="645" width="13" height="23" fill="#45ec30"/>
<text class="s" transform="translate(0 661.8) scale(0.72 1)" x="1555.97 1625.97 1805.14 1822.64 1840.14 1910.14" font-size="14.1" text-anchor="middle" style="--c:#141414" opacity="0.85">ATAATT</text>
<text class="m" transform="translate(1115 659.9) scale(1 1)" x="3.15" font-size="10.5" letter-spacing="6.3" style="--c:#1a1a1a" opacity="0.8"> ··· ····<tspan dx="1.5">·</tspan><tspan dx="1.5">····   ··· ··</tspan></text>
<text x="1435.8" y="662.32" class="v">166</text>
<text x="1488.3" y="662.32" class="v">3.1</text>
<text x="1540.8" y="662.32" class="v">0</text>
<text x="1593.1" y="662.32" class="v">0</text>
<rect x="1114" y="668" width="12" height="23" fill="#45ec30"/>
<rect x="1215" y="668" width="12" height="23" fill="#45ec30"/>
<rect x="1318" y="668" width="13" height="23" fill="#45ec30"/>
<rect x="1394" y="668" width="13" height="23" fill="#45ec30"/>
<text class="s" transform="translate(0 684.8) scale(0.72 1)" x="1555.97 1695.97 1840.14 1910.14 1945.14" font-size="14.1" text-anchor="middle" style="--c:#141414" opacity="0.85">TTTGT</text>
<text class="m" transform="translate(1115 682.9) scale(1 1)" x="3.15" font-size="10.5" letter-spacing="6.3" style="--c:#1a1a1a" opacity="0.8"> ······· <tspan dx="1.5">·</tspan><tspan dx="1.5">······ ··· ·</tspan></text>
<text x="1435.8" y="685.3" class="v">165</text>
<text x="1488.3" y="685.3" class="v">3.1</text>
<text x="1540.8" y="685.3" class="v">0</text>
<text x="1593.1" y="685.3" class="v">0</text>
<rect x="1114" y="691" width="12" height="23" fill="#45ec30"/>
<rect x="1164" y="691" width="13" height="23" fill="#45ec30"/>
<rect x="1318" y="691" width="13" height="23" fill="#45ec30"/>
<text class="s" transform="translate(0 707.8) scale(0.72 1)" x="1555.97 1625.97 1840.14 1910.14" font-size="14.1" text-anchor="middle" style="--c:#141414" opacity="0.85">TTTT</text>
<text class="m" transform="translate(1115 705.9) scale(1 1)" x="3.15" font-size="10.5" letter-spacing="6.3" style="--c:#1a1a1a" opacity="0.8"> ··· ····<tspan dx="1.5">·</tspan><tspan dx="1.5">······ ··· ··</tspan></text>
<text x="1435.8" y="708.28" class="v">161</text>
<text x="1488.3" y="708.28" class="v">3.0</text>
<text x="1540.8" y="708.28" class="v">0</text>
<text x="1593.1" y="708.28" class="v">0</text>
<rect x="1114" y="714" width="12" height="23" fill="#45ec30"/>
<rect x="1177" y="714" width="12" height="23" fill="#f45050"/>
<rect x="1215" y="714" width="12" height="23" fill="#45ec30"/>
<rect x="1331" y="714" width="13" height="23" fill="#5cb2f6"/>
<text class="s" transform="translate(0 730.8) scale(0.72 1)" x="1555.97 1643.47 1695.97 1857.64 1910.14" font-size="14.1" text-anchor="middle" style="--c:#141414" opacity="0.85">TATCT</text>
<text class="m" transform="translate(1115 728.9) scale(1 1)" x="3.15" font-size="10.5" letter-spacing="6.3" style="--c:#1a1a1a" opacity="0.8"> ···· ·· <tspan dx="1.5">·</tspan><tspan dx="1.5">······· ·· ··</tspan></text>
<text x="1435.8" y="731.26" class="v">160</text>
<text x="1488.3" y="731.26" class="v">3.0</text>
<text x="1540.8" y="731.26" class="v">0</text>
<text x="1593.1" y="731.26" class="v">0</text>
<rect x="1177" y="737" width="12" height="23" fill="#f45050"/>
<rect x="1189" y="737" width="13" height="23" fill="#ecfd66"/>
<rect x="1331" y="737" width="13" height="23" fill="#f45050"/>
<rect x="1344" y="737" width="12" height="23" fill="#ecfd66"/>
<rect x="1356" y="737" width="13" height="23" fill="#5cb2f6"/>
<rect x="1394" y="737" width="13" height="23" fill="#45ec30"/>
<text class="s" transform="translate(0 753.8) scale(0.72 1)" x="1643.47 1660.97 1857.64 1875.14 1892.64 1910.14 1945.14" font-size="14.1" text-anchor="middle" style="--c:#141414" opacity="0.85">AGAGCGT</text>
<text class="m" transform="translate(1115 751.9) scale(1 1)" x="3.15" font-size="10.5" letter-spacing="6.3" style="--c:#1a1a1a" opacity="0.8">·····  ··<tspan dx="1.5">·</tspan><tspan dx="1.5">·······    ·</tspan></text>
<text x="1435.8" y="754.24" class="v">160</text>
<text x="1488.3" y="754.24" class="v">3.0</text>
<text x="1540.8" y="754.24" class="v">0</text>
<text x="1593.1" y="754.24" class="v">0</text>
<rect x="1114" y="760" width="12" height="23" fill="#f45050"/>
<rect x="1164" y="760" width="13" height="23" fill="#45ec30"/>
<rect x="1189" y="760" width="13" height="23" fill="#5cb2f6"/>
<rect x="1293" y="760" width="13" height="23" fill="#5cb2f6"/>
<rect x="1318" y="760" width="13" height="23" fill="#45ec30"/>
<text class="s" transform="translate(0 776.8) scale(0.72 1)" x="1555.97 1625.97 1660.97 1805.14 1840.14 1910.14" font-size="14.1" text-anchor="middle" style="--c:#141414" opacity="0.85">ATCCTA</text>
<text class="m" transform="translate(1115 774.9) scale(1 1)" x="3.15" font-size="10.5" letter-spacing="6.3" style="--c:#1a1a1a" opacity="0.8"> ··· · ··<tspan dx="1.5">·</tspan><tspan dx="1.5">···· · ··· ··</tspan></text>
<text x="1435.8" y="777.22" class="v">156</text>
<text x="1488.3" y="777.22" class="v">2.9</text>
<text x="1540.8" y="777.22" class="v">0</text>
<text x="1593.1" y="777.22" class="v">0</text>
<rect x="1114" y="783" width="12" height="23" fill="#45ec30"/>
<rect x="1215" y="783" width="12" height="23" fill="#45ec30"/>
<rect x="1318" y="783" width="13" height="23" fill="#45ec30"/>
<rect x="1394" y="783" width="13" height="23" fill="#45ec30"/>
<text class="s" transform="translate(0 799.8) scale(0.72 1)" x="1555.97 1695.97 1840.14 1910.14 1945.14" font-size="14.1" text-anchor="middle" style="--c:#141414" opacity="0.85">TTTTT</text>
<text class="m" transform="translate(1115 797.9) scale(1 1)" x="3.15" font-size="10.5" letter-spacing="6.3" style="--c:#1a1a1a" opacity="0.8"> ······· <tspan dx="1.5">·</tspan><tspan dx="1.5">······ ··· ·</tspan></text>
<text x="1435.8" y="800.2" class="v">153</text>
<text x="1488.3" y="800.2" class="v">2.9</text>
<text x="1540.8" y="800.2" class="v">0</text>
<text x="1593.1" y="800.2" class="v">0</text>
<rect x="1126" y="806" width="13" height="23" fill="#f45050"/>
<rect x="1215" y="806" width="12" height="23" fill="#45ec30"/>
<rect x="1318" y="806" width="13" height="23" fill="#45ec30"/>
<text class="s" transform="translate(0 822.8) scale(0.72 1)" x="1573.47 1695.97 1840.14 1910.14" font-size="14.1" text-anchor="middle" style="--c:#141414" opacity="0.85">ATTC</text>
<text class="m" transform="translate(1115 820.9) scale(1 1)" x="3.15" font-size="10.5" letter-spacing="6.3" style="--c:#1a1a1a" opacity="0.8">· ······ <tspan dx="1.5">·</tspan><tspan dx="1.5">······ ··· ··</tspan></text>
<text x="1435.8" y="823.18" class="v">151</text>
<text x="1488.3" y="823.18" class="v">2.9</text>
<text x="1540.8" y="823.18" class="v">0</text>
<text x="1593.1" y="823.18" class="v">0</text>
<rect x="1114" y="829" width="12" height="23" fill="#5cb2f6"/>
<rect x="1126" y="829" width="13" height="23" fill="#45ec30"/>
<rect x="1243" y="829" width="12" height="23" fill="#f45050"/>
<rect x="1293" y="829" width="13" height="23" fill="#f45050"/>
<text class="s" transform="translate(0 845.8) scale(0.72 1)" x="1555.97 1573.47 1735.14 1805.14 1910.14" font-size="14.1" text-anchor="middle" style="--c:#141414" opacity="0.85">CTAAA</text>
<text class="m" transform="translate(1115 843.9) scale(1 1)" x="3.15" font-size="10.5" letter-spacing="6.3" style="--c:#1a1a1a" opacity="0.8">  ·······<tspan dx="1.5">·</tspan><tspan dx="1.5"> ··· ····· ··</tspan></text>
<text x="1435.8" y="846.16" class="v">151</text>
<text x="1488.3" y="846.16" class="v">2.9</text>
<text x="1540.8" y="846.16" class="v">0</text>
<text x="1593.1" y="846.16" class="v">0</text>
<rect x="1114" y="852" width="12" height="23" fill="#45ec30"/>
<rect x="1164" y="852" width="13" height="23" fill="#45ec30"/>
<rect x="1318" y="852" width="13" height="23" fill="#45ec30"/>
<text class="s" transform="translate(0 868.8) scale(0.72 1)" x="1555.97 1625.97 1840.14 1910.14" font-size="14.1" text-anchor="middle" style="--c:#141414" opacity="0.85">TTTG</text>
<text class="m" transform="translate(1115 866.9) scale(1 1)" x="3.15" font-size="10.5" letter-spacing="6.3" style="--c:#1a1a1a" opacity="0.8"> ··· ····<tspan dx="1.5">·</tspan><tspan dx="1.5">······ ··· ··</tspan></text>
<text x="1435.8" y="869.14" class="v">149</text>
<text x="1488.3" y="869.14" class="v">2.8</text>
<text x="1540.8" y="869.14" class="v">0</text>
<text x="1593.1" y="869.14" class="v">0</text>
<rect x="1164" y="875" width="13" height="23" fill="#45ec30"/>
<rect x="1215" y="875" width="12" height="23" fill="#45ec30"/>
<rect x="1394" y="875" width="13" height="23" fill="#f45050"/>
<text class="s" transform="translate(0 891.8) scale(0.72 1)" x="1625.97 1695.97 1910.14 1945.14" font-size="14.1" text-anchor="middle" style="--c:#141414" opacity="0.85">TTGA</text>
<text class="m" transform="translate(1115 889.9) scale(1 1)" x="3.15" font-size="10.5" letter-spacing="6.3" style="--c:#1a1a1a" opacity="0.8">···· ··· <tspan dx="1.5">·</tspan><tspan dx="1.5">·········· ·</tspan></text>
<text x="1435.8" y="892.12" class="v">147</text>
<text x="1488.3" y="892.12" class="v">2.8</text>
<text x="1540.8" y="892.12" class="v">0</text>
<text x="1593.1" y="892.12" class="v">0</text>
<rect x="1114" y="898" width="12" height="23" fill="#f45050"/>
<rect x="1139" y="898" width="13" height="23" fill="#f45050"/>
<rect x="1189" y="898" width="13" height="23" fill="#f45050"/>
<rect x="1318" y="898" width="13" height="23" fill="#45ec30"/>
<text class="s" transform="translate(0 914.8) scale(0.72 1)" x="1555.97 1590.97 1660.97 1840.14 1910.14" font-size="14.1" text-anchor="middle" style="--c:#141414" opacity="0.85">AAATT</text>
<text class="m" transform="translate(1115 912.9) scale(1 1)" x="3.15" font-size="10.5" letter-spacing="6.3" style="--c:#1a1a1a" opacity="0.8"> · ··· ··<tspan dx="1.5">·</tspan><tspan dx="1.5">······ ··· ··</tspan></text>
<text x="1435.8" y="915.1" class="v">147</text>
<text x="1488.3" y="915.1" class="v">2.8</text>
<text x="1540.8" y="915.1" class="v">0</text>
<text x="1593.1" y="915.1" class="v">0</text>
<rect x="1114" y="921" width="12" height="23" fill="#45ec30"/>
<rect x="1215" y="921" width="12" height="23" fill="#45ec30"/>
<rect x="1227" y="921" width="16" height="23" fill="#f45050"/>
<rect x="1318" y="921" width="13" height="23" fill="#45ec30"/>
<text class="s" transform="translate(0 937.8) scale(0.72 1)" x="1555.97 1695.97 1715.56 1840.14 1910.14" font-size="14.1" text-anchor="middle" style="--c:#141414" opacity="0.85">TTATT</text>
<text class="m" transform="translate(1115 935.9) scale(1 1)" x="3.15" font-size="10.5" letter-spacing="6.3" style="--c:#1a1a1a" opacity="0.8"> ······· <tspan dx="1.5"> </tspan><tspan dx="1.5">······ ··· ··</tspan></text>
<text x="1435.8" y="938.08" class="v">146</text>
<text x="1488.3" y="938.08" class="v">2.8</text>
<text x="1540.8" y="938.08" class="v">0</text>
<text x="1593.1" y="938.08" class="v">0</text>
<rect x="1114" y="944" width="12" height="23" fill="#45ec30"/>
<rect x="1164" y="944" width="13" height="23" fill="#45ec30"/>
<rect x="1318" y="944" width="13" height="23" fill="#45ec30"/>
<rect x="1344" y="944" width="12" height="23" fill="#ecfd66"/>
<text class="s" transform="translate(0 960.8) scale(0.72 1)" x="1555.97 1625.97 1840.14 1875.14 1910.14" font-size="14.1" text-anchor="middle" style="--c:#141414" opacity="0.85">TTTGG</text>
<text class="m" transform="translate(1115 958.9) scale(1 1)" x="3.15" font-size="10.5" letter-spacing="6.3" style="--c:#1a1a1a" opacity="0.8"> ··· ····<tspan dx="1.5">·</tspan><tspan dx="1.5">······ · · ··</tspan></text>
<text x="1435.8" y="961.06" class="v">143</text>
<text x="1488.3" y="961.06" class="v">2.7</text>
<text x="1540.8" y="961.06" class="v">0</text>
<text x="1593.1" y="961.06" class="v">0</text>
<rect x="1126" y="967" width="13" height="23" fill="#45ec30"/>
<rect x="1139" y="967" width="13" height="23" fill="#ecfd66"/>
<rect x="1152" y="967" width="12" height="23" fill="#45ec30"/>
<rect x="1281" y="967" width="12" height="23" fill="#f45050"/>
<rect x="1318" y="967" width="13" height="23" fill="#45ec30"/>
<text class="s" transform="translate(0 983.8) scale(0.72 1)" x="1573.47 1590.97 1608.47 1787.64 1840.14 1910.14" font-size="14.1" text-anchor="middle" style="--c:#141414" opacity="0.85">TGTATA</text>
<text class="m" transform="translate(1115 981.9) scale(1 1)" x="3.15" font-size="10.5" letter-spacing="6.3" style="--c:#1a1a1a" opacity="0.8">·   ·····<tspan dx="1.5">·</tspan><tspan dx="1.5">··· ·· ··· ··</tspan></text>
<text x="1435.8" y="984.04" class="v">143</text>
<text x="1488.3" y="984.04" class="v">2.7</text>
<text x="1540.8" y="984.04" class="v">0</text>
<text x="1593.1" y="984.04" class="v">0</text>
<rect x="1114" y="990" width="12" height="23" fill="#45ec30"/>
<rect x="1139" y="990" width="13" height="23" fill="#f45050"/>
<rect x="1293" y="990" width="13" height="23" fill="#f45050"/>
<rect x="1318" y="990" width="13" height="23" fill="#f45050"/>
<text class="s" transform="translate(0 1006.8) scale(0.72 1)" x="1555.97 1590.97 1805.14 1840.14 1910.14" font-size="14.1" text-anchor="middle" style="--c:#141414" opacity="0.85">TAAAG</text>
<text class="m" transform="translate(1115 1004.9) scale(1 1)" x="3.15" font-size="10.5" letter-spacing="6.3" style="--c:#1a1a1a" opacity="0.8"> · ······<tspan dx="1.5">·</tspan><tspan dx="1.5">···· · ··· ··</tspan></text>
<text x="1435.8" y="1007.02" class="v">141</text>
<text x="1488.3" y="1007.02" class="v">2.7</text>
<text x="1540.8" y="1007.02" class="v">0</text>
<text x="1593.1" y="1007.02" class="v">0</text>
<rect x="1114" y="1013" width="12" height="23" fill="#f45050"/>
<rect x="1164" y="1013" width="13" height="23" fill="#45ec30"/>
<rect x="1318" y="1013" width="13" height="23" fill="#45ec30"/>
<rect x="1381" y="1013" width="13" height="23" fill="#45ec30"/>
<text class="s" transform="translate(0 1029.8) scale(0.72 1)" x="1555.97 1625.97 1840.14 1910.14 1927.64" font-size="14.1" text-anchor="middle" style="--c:#141414" opacity="0.85">ATTCT</text>
<text class="m" transform="translate(1115 1027.9) scale(1 1)" x="3.15" font-size="10.5" letter-spacing="6.3" style="--c:#1a1a1a" opacity="0.8"> ··· ····<tspan dx="1.5">·</tspan><tspan dx="1.5">······ ···  ·</tspan></text>
<text x="1435.8" y="1030" class="v">139</text>
<text x="1488.3" y="1030" class="v">2.6</text>
<text x="1540.8" y="1030" class="v">0</text>
<text x="1593.1" y="1030" class="v">0</text>
<rect x="1268" y="1036" width="13" height="23" fill="#5cb2f6"/>
<rect x="1344" y="1036" width="12" height="23" fill="#ecfd66"/>
<text class="s" transform="translate(0 1052.8) scale(0.72 1)" x="1770.14 1875.14 1910.14" font-size="14.1" text-anchor="middle" style="--c:#141414" opacity="0.85">CGT</text>
<text class="m" transform="translate(1115 1050.9) scale(1 1)" x="3.15" font-size="10.5" letter-spacing="6.3" style="--c:#1a1a1a" opacity="0.8">·········<tspan dx="1.5">·</tspan><tspan dx="1.5">·· ····· · ··</tspan></text>
<text x="1435.8" y="1052.98" class="v">138</text>
<text x="1488.3" y="1052.98" class="v">2.6</text>
<text x="1540.8" y="1052.98" class="v">0</text>
<text x="1593.1" y="1052.98" class="v">0</text>
<rect x="1164" y="1059" width="13" height="23" fill="#45ec30"/>
<rect x="1268" y="1059" width="13" height="23" fill="#5cb2f6"/>
<rect x="1281" y="1059" width="12" height="23" fill="#f45050"/>
<rect x="1331" y="1059" width="13" height="23" fill="#f45050"/>
<text class="s" transform="translate(0 1075.8) scale(0.72 1)" x="1625.97 1770.14 1787.64 1857.64 1910.14" font-size="14.1" text-anchor="middle" style="--c:#141414" opacity="0.85">TCAAT</text>
<text class="m" transform="translate(1115 1073.9) scale(1 1)" x="3.15" font-size="10.5" letter-spacing="6.3" style="--c:#1a1a1a" opacity="0.8">···· ····<tspan dx="1.5">·</tspan><tspan dx="1.5">··  ··· ·· ··</tspan></text>
<text x="1435.8" y="1075.96" class="v">138</text>
<text x="1488.3" y="1075.96" class="v">2.6</text>
<text x="1540.8" y="1075.96" class="v">0</text>
<text x="1593.1" y="1075.96" class="v">0</text>
<rect x="1114" y="1082" width="12" height="23" fill="#f45050"/>
<rect x="1164" y="1082" width="13" height="23" fill="#45ec30"/>
<rect x="1243" y="1082" width="12" height="23" fill="#f45050"/>
<rect x="1318" y="1082" width="13" height="23" fill="#45ec30"/>
<text class="s" transform="translate(0 1098.8) scale(0.72 1)" x="1555.97 1625.97 1735.14 1840.14 1910.14" font-size="14.1" text-anchor="middle" style="--c:#141414" opacity="0.85">ATATT</text>
<text class="m" transform="translate(1115 1096.9) scale(1 1)" x="3.15" font-size="10.5" letter-spacing="6.3" style="--c:#1a1a1a" opacity="0.8"> ··· ····<tspan dx="1.5">·</tspan><tspan dx="1.5"> ····· ··· ··</tspan></text>
<text x="1435.8" y="1098.94" class="v">138</text>
<text x="1488.3" y="1098.94" class="v">2.6</text>
<text x="1540.8" y="1098.94" class="v">0</text>
<text x="1593.1" y="1098.94" class="v">0</text>
<rect x="1114" y="1105" width="12" height="23" fill="#f45050"/>
<rect x="1164" y="1105" width="13" height="23" fill="#45ec30"/>
<rect x="1243" y="1105" width="12" height="23" fill="#f45050"/>
<rect x="1318" y="1105" width="13" height="23" fill="#45ec30"/>
<text class="s" transform="translate(0 1121.8) scale(0.72 1)" x="1555.97 1625.97 1735.14 1840.14 1910.14" font-size="14.1" text-anchor="middle" style="--c:#141414" opacity="0.85">ATATT</text>
<text class="m" transform="translate(1115 1119.9) scale(1 1)" x="3.15" font-size="10.5" letter-spacing="6.3" style="--c:#1a1a1a" opacity="0.8"> ··· ····<tspan dx="1.5">·</tspan><tspan dx="1.5"> ····· ··· ··</tspan></text>
<text x="1435.8" y="1121.92" class="v">137</text>
<text x="1488.3" y="1121.92" class="v">2.6</text>
<text x="1540.8" y="1121.92" class="v">0</text>
<text x="1593.1" y="1121.92" class="v">0</text>
<rect x="1114" y="1128" width="12" height="23" fill="#45ec30"/>
<rect x="1164" y="1128" width="13" height="23" fill="#45ec30"/>
<rect x="1318" y="1128" width="13" height="23" fill="#45ec30"/>
<text class="s" transform="translate(0 1144.8) scale(0.72 1)" x="1555.97 1625.97 1840.14 1910.14" font-size="14.1" text-anchor="middle" style="--c:#141414" opacity="0.85">TTTT</text>
<text class="m" transform="translate(1115 1142.9) scale(1 1)" x="3.15" font-size="10.5" letter-spacing="6.3" style="--c:#1a1a1a" opacity="0.8"> ··· ····<tspan dx="1.5">·</tspan><tspan dx="1.5">······ ··· ··</tspan></text>
<text x="1435.8" y="1144.9" class="v">135</text>
<text x="1488.3" y="1144.9" class="v">2.6</text>
<text x="1540.8" y="1144.9" class="v">0</text>
<text x="1593.1" y="1144.9" class="v">0</text>
<rect x="1114" y="1151" width="12" height="23" fill="#45ec30"/>
<rect x="1227" y="1151" width="16" height="23" fill="#f45050"/>
<rect x="1318" y="1151" width="13" height="23" fill="#45ec30"/>
<text class="s" transform="translate(0 1167.8) scale(0.72 1)" x="1555.97 1715.56 1840.14 1910.14" font-size="14.1" text-anchor="middle" style="--c:#141414" opacity="0.85">TATT</text>
<text class="m" transform="translate(1115 1165.9) scale(1 1)" x="3.15" font-size="10.5" letter-spacing="6.3" style="--c:#1a1a1a" opacity="0.8"> ········<tspan dx="1.5"> </tspan><tspan dx="1.5">······ ··· ··</tspan></text>
<text x="1435.8" y="1167.88" class="v">135</text>
<text x="1488.3" y="1167.88" class="v">2.6</text>
<text x="1540.8" y="1167.88" class="v">0</text>
<text x="1593.1" y="1167.88" class="v">0</text>
<rect x="1114" y="1174" width="12" height="23" fill="#45ec30"/>
<rect x="1227" y="1174" width="16" height="23" fill="#f45050"/>
<rect x="1318" y="1174" width="13" height="23" fill="#45ec30"/>
<rect x="1344" y="1174" width="12" height="23" fill="#f45050"/>
<rect x="1381" y="1174" width="13" height="23" fill="#45ec30"/>
<text class="s" transform="translate(0 1190.8) scale(0.72 1)" x="1555.97 1715.56 1840.14 1875.14 1910.14 1927.64" font-size="14.1" text-anchor="middle" style="--c:#141414" opacity="0.85">TATAGT</text>
<text class="m" transform="translate(1115 1188.9) scale(1 1)" x="3.15" font-size="10.5" letter-spacing="6.3" style="--c:#1a1a1a" opacity="0.8"> ········<tspan dx="1.5"> </tspan><tspan dx="1.5">······ · ·  ·</tspan></text>
<text x="1435.8" y="1190.86" class="v">134</text>
<text x="1488.3" y="1190.86" class="v">2.5</text>
<text x="1540.8" y="1190.86" class="v">0</text>
<text x="1593.1" y="1190.86" class="v">0</text>
<rect x="1114" y="1197" width="12" height="23" fill="#f45050"/>
<rect x="1215" y="1197" width="12" height="23" fill="#45ec30"/>
<rect x="1255" y="1197" width="13" height="23" fill="#f45050"/>
<rect x="1318" y="1197" width="13" height="23" fill="#45ec30"/>
<text class="s" transform="translate(0 1213.8) scale(0.72 1)" x="1555.97 1695.97 1752.64 1840.14 1910.14" font-size="14.1" text-anchor="middle" style="--c:#141414" opacity="0.85">ATATT</text>
<text class="m" transform="translate(1115 1211.9) scale(1 1)" x="3.15" font-size="10.5" letter-spacing="6.3" style="--c:#1a1a1a" opacity="0.8"> ······· <tspan dx="1.5">·</tspan><tspan dx="1.5">· ···· ··· ··</tspan></text>
<text x="1435.8" y="1213.84" class="v">134</text>
<text x="1488.3" y="1213.84" class="v">2.5</text>
<text x="1540.8" y="1213.84" class="v">0</text>
<text x="1593.1" y="1213.84" class="v">0</text>
<rect x="1114" y="1220" width="12" height="23" fill="#f45050"/>
<rect x="1139" y="1220" width="13" height="23" fill="#ecfd66"/>
<rect x="1152" y="1220" width="12" height="23" fill="#45ec30"/>
<rect x="1331" y="1220" width="13" height="23" fill="#f45050"/>
<rect x="1394" y="1220" width="13" height="23" fill="#45ec30"/>
<text class="s" transform="translate(0 1236.8) scale(0.72 1)" x="1555.97 1590.97 1608.47 1857.64 1910.14 1945.14" font-size="14.1" text-anchor="middle" style="--c:#141414" opacity="0.85">AGTAGT</text>
<text class="m" transform="translate(1115 1234.9) scale(1 1)" x="3.15" font-size="10.5" letter-spacing="6.3" style="--c:#1a1a1a" opacity="0.8"> ·  ·····<tspan dx="1.5">·</tspan><tspan dx="1.5">······· ·· ·</tspan></text>
<text x="1435.8" y="1236.82" class="v">134</text>
<text x="1488.3" y="1236.82" class="v">2.5</text>
<text x="1540.8" y="1236.82" class="v">0</text>
<text x="1593.1" y="1236.82" class="v">0</text>
<rect x="1114" y="1243" width="12" height="23" fill="#45ec30"/>
<rect x="1227" y="1243" width="16" height="23" fill="#f45050"/>
<rect x="1268" y="1243" width="13" height="23" fill="#f45050"/>
<rect x="1331" y="1243" width="13" height="23" fill="#f45050"/>
<text class="s" transform="translate(0 1259.8) scale(0.72 1)" x="1555.97 1715.56 1770.14 1857.64 1910.14" font-size="14.1" text-anchor="middle" style="--c:#141414" opacity="0.85">TAAAT</text>
<text class="m" transform="translate(1115 1257.9) scale(1 1)" x="3.15" font-size="10.5" letter-spacing="6.3" style="--c:#1a1a1a" opacity="0.8"> ········<tspan dx="1.5"> </tspan><tspan dx="1.5">·· ···· ·· ··</tspan></text>
<text x="1435.8" y="1259.8" class="v">133</text>
<text x="1488.3" y="1259.8" class="v">2.5</text>
<text x="1540.8" y="1259.8" class="v">0</text>
<text x="1593.1" y="1259.8" class="v">0</text>
<rect x="1114" y="1266" width="12" height="23" fill="#5cb2f6"/>
<rect x="1126" y="1266" width="13" height="23" fill="#f45050"/>
<rect x="1152" y="1266" width="12" height="23" fill="#f45050"/>
<rect x="1344" y="1266" width="12" height="23" fill="#f45050"/>
<text class="s" transform="translate(0 1282.8) scale(0.72 1)" x="1555.97 1573.47 1608.47 1875.14 1910.14" font-size="14.1" text-anchor="middle" style="--c:#141414" opacity="0.85">CAAAT</text>
<text class="m" transform="translate(1115 1280.9) scale(1 1)" x="3.15" font-size="10.5" letter-spacing="6.3" style="--c:#1a1a1a" opacity="0.8">  · ·····<tspan dx="1.5">·</tspan><tspan dx="1.5">········ · ··</tspan></text>
<text x="1435.8" y="1282.78" class="v">133</text>
<text x="1488.3" y="1282.78" class="v">2.5</text>
<text x="1540.8" y="1282.78" class="v">0</text>
<text x="1593.1" y="1282.78" class="v">0</text>
<rect x="1114" y="1289" width="12" height="23" fill="#f45050"/>
<rect x="1139" y="1289" width="13" height="23" fill="#5cb2f6"/>
<rect x="1215" y="1289" width="12" height="23" fill="#ecfd66"/>
<text class="s" transform="translate(0 1305.8) scale(0.72 1)" x="1555.97 1590.97 1695.97 1910.14" font-size="14.1" text-anchor="middle" style="--c:#141414" opacity="0.85">ACGG</text>
<text class="m" transform="translate(1115 1303.9) scale(1 1)" x="3.15" font-size="10.5" letter-spacing="6.3" style="--c:#1a1a1a" opacity="0.8"> · ····· <tspan dx="1.5">·</tspan><tspan dx="1.5">·········· ··</tspan></text>
<text x="1435.8" y="1305.76" class="v">133</text>
<text x="1488.3" y="1305.76" class="v">2.5</text>
<text x="1540.8" y="1305.76" class="v">0</text>
<text x="1593.1" y="1305.76" class="v">0</text>
<rect x="1114" y="1312" width="12" height="23" fill="#45ec30"/>
<rect x="1215" y="1312" width="12" height="23" fill="#45ec30"/>
<rect x="1306" y="1312" width="12" height="23" fill="#f45050"/>
<rect x="1318" y="1312" width="13" height="23" fill="#45ec30"/>
<text class="s" transform="translate(0 1328.8) scale(0.72 1)" x="1555.97 1695.97 1822.64 1840.14 1910.14" font-size="14.1" text-anchor="middle" style="--c:#141414" opacity="0.85">TTATT</text>
<text class="m" transform="translate(1115 1326.9) scale(1 1)" x="3.15" font-size="10.5" letter-spacing="6.3" style="--c:#1a1a1a" opacity="0.8"> ······· <tspan dx="1.5">·</tspan><tspan dx="1.5">·····  ··· ··</tspan></text>
<text x="1435.8" y="1328.74" class="v">127</text>
<text x="1488.3" y="1328.74" class="v">2.4</text>
<text x="1540.8" y="1328.74" class="v">0</text>
<text x="1593.1" y="1328.74" class="v">0</text>
<rect x="1114" y="1335" width="12" height="23" fill="#45ec30"/>
<rect x="1215" y="1335" width="12" height="23" fill="#45ec30"/>
<rect x="1318" y="1335" width="13" height="23" fill="#45ec30"/>
<text class="s" transform="translate(0 1351.8) scale(0.72 1)" x="1555.97 1695.97 1840.14 1910.14" font-size="14.1" text-anchor="middle" style="--c:#141414" opacity="0.85">TTTT</text>
<text class="m" transform="translate(1115 1349.9) scale(1 1)" x="3.15" font-size="10.5" letter-spacing="6.3" style="--c:#1a1a1a" opacity="0.8"> ······· <tspan dx="1.5">·</tspan><tspan dx="1.5">······ ··· ··</tspan></text>
<text x="1435.8" y="1351.72" class="v">126</text>
<text x="1488.3" y="1351.72" class="v">2.4</text>
<text x="1540.8" y="1351.72" class="v">0</text>
<text x="1593.1" y="1351.72" class="v">0</text>
<rect x="1164" y="1358" width="13" height="23" fill="#45ec30"/>
<rect x="1318" y="1358" width="13" height="23" fill="#45ec30"/>
<rect x="1394" y="1358" width="13" height="23" fill="#45ec30"/>
<text class="s" transform="translate(0 1374.8) scale(0.72 1)" x="1625.97 1840.14 1910.14 1945.14" font-size="14.1" text-anchor="middle" style="--c:#141414" opacity="0.85">TTGT</text>
<text class="m" transform="translate(1115 1372.9) scale(1 1)" x="3.15" font-size="10.5" letter-spacing="6.3" style="--c:#1a1a1a" opacity="0.8">···· ····<tspan dx="1.5">·</tspan><tspan dx="1.5">······ ··· ·</tspan></text>
<text x="1435.8" y="1374.7" class="v">126</text>
<text x="1488.3" y="1374.7" class="v">2.4</text>
<text x="1540.8" y="1374.7" class="v">0</text>
<text x="1593.1" y="1374.7" class="v">0</text>
<rect x="1164.2" y="1381.2" width="12.6" height="1.3" fill="#5cb2f6" fill-opacity="0.8"/>
<rect x="1176.8" y="1381.2" width="12.6" height="1.3" fill="#f45050" fill-opacity="0.8"/>
<rect x="1214.6" y="1381.2" width="12.6" height="1.3" fill="#45ec30" fill-opacity="0.8"/>
<rect x="1293.2" y="1381.2" width="12.6" height="1.3" fill="#f45050" fill-opacity="0.8"/>
<rect x="1318.4" y="1381.2" width="12.6" height="1.3" fill="#45ec30" fill-opacity="0.8"/>
<text transform="translate(1630.3 504.1) scale(1.03 1)" font-size="22.9">T3 gRNA, 50nM  (continued)</text>
<text x="1998.8" y="500.2" font-size="17.5">Norm(%)</text>
<line x1="1978.4" y1="510.9" x2="2087" y2="510.9" stroke="#4a4a4a" stroke-width="1.4"/>
<text x="2093.6" y="500.2" font-size="17.5">Ratio</text>
<line x1="2093.2" y1="502.6" x2="2135.2" y2="502.6" stroke="#111" stroke-width="1.2"/>
<text x="2094.2" y="522.8" font-size="17" style="--c:#db8446">ØXØ</text>
<text x="2087.4" y="543.7" font-size="17.5">/gRNA</text>
<text x="1928.6" y="536.2" font-size="17.5">Reads</text>
<text x="1987.5" y="536.2" font-size="17.5">gRNA</text>
<text x="2042.6" y="536.2" font-size="17" style="--c:#db8446">ØXØ</text>
<text class="n" transform="translate(1639.3 550.3) scale(0.62 1)" text-anchor="middle">20</text>
<text class="n" transform="translate(1766.1 550.3) scale(0.62 1)" text-anchor="middle">10</text>
<text class="n" transform="translate(1879.3 550.3) scale(0.62 1)" text-anchor="middle">1</text>
<text class="n" transform="translate(1894.3 550.3) scale(0.62 1)" text-anchor="middle">P</text>
<text class="n" transform="translate(1906.9 550.3) scale(0.62 1)" text-anchor="middle">A</text>
<text class="n" transform="translate(1919.5 550.3) scale(0.62 1)" text-anchor="middle">M</text>
<rect x="2031.8" y="550.2" width="105.2" height="805.35" fill="#c1c1c1"/>
<rect x="1682" y="552" width="13" height="23" fill="#5cb2f6"/>
<rect x="1695" y="552" width="12" height="23" fill="#f45050"/>
<rect x="1733" y="552" width="12" height="23" fill="#45ec30"/>
<rect x="1811" y="552" width="13" height="23" fill="#f45050"/>
<rect x="1836" y="552" width="13" height="23" fill="#45ec30"/>
<text class="s" transform="translate(0 569.4) scale(0.72 1)" x="2345.42 2362.92 2415.42 2524.58 2559.58 2629.58" font-size="14.1" text-anchor="middle" style="--c:#141414" opacity="0.85">CATATT</text>
<text class="m" transform="translate(1633 567.5) scale(1 1)" x="3.15" font-size="10.5" letter-spacing="6.3" style="--c:#1a1a1a" opacity="0.8">····  ·· <tspan dx="1.5">·</tspan><tspan dx="1.5">···· · ··· ··</tspan></text>
<text x="1953.4" y="568.9" class="v">126</text>
<text x="2004.9" y="568.9" class="v">2.4</text>
<text x="2058.1" y="568.9" class="v">0</text>
<text x="2110.3" y="568.9" class="v">0</text>
<rect x="1644" y="575" width="26" height="23" fill="#f45050"/>
<rect x="1695" y="575" width="12" height="23" fill="#f45050"/>
<rect x="1849" y="575" width="13" height="23" fill="#45ec30"/>
<text class="s" transform="translate(0 592.37) scale(0.72 1)" x="2292.92 2310.42 2362.92 2577.08 2629.58" font-size="14.1" text-anchor="middle" style="--c:#141414" opacity="0.85">AAATT</text>
<text class="m" transform="translate(1633 590.47) scale(1 1)" x="3.15" font-size="10.5" letter-spacing="6.3" style="--c:#1a1a1a" opacity="0.8">·  ·· ···<tspan dx="1.5">·</tspan><tspan dx="1.5">······· ·· ··</tspan></text>
<text x="1953.4" y="591.91" class="v">126</text>
<text x="2004.9" y="591.91" class="v">2.4</text>
<text x="2058.1" y="591.91" class="v">0</text>
<text x="2110.3" y="591.91" class="v">0</text>
<rect x="1632" y="598" width="25" height="23" fill="#f45050"/>
<rect x="1695" y="598" width="12" height="23" fill="#f45050"/>
<rect x="1745" y="598" width="16" height="23" fill="#f45050"/>
<rect x="1849" y="598" width="13" height="23" fill="#f45050"/>
<text class="s" transform="translate(0 615.34) scale(0.72 1)" x="2275.42 2292.92 2362.92 2435 2577.08 2629.58" font-size="14.1" text-anchor="middle" style="--c:#141414" opacity="0.85">AAAAAT</text>
<text class="m" transform="translate(1633 613.44) scale(1 1)" x="3.15" font-size="10.5" letter-spacing="6.3" style="--c:#1a1a1a" opacity="0.8">  ··· ···<tspan dx="1.5"> </tspan><tspan dx="1.5">······· ·· ··</tspan></text>
<text x="1953.4" y="614.92" class="v">126</text>
<text x="2004.9" y="614.92" class="v">2.4</text>
<text x="2058.1" y="614.92" class="v">0</text>
<text x="2110.3" y="614.92" class="v">0</text>
<rect x="1632" y="621" width="12" height="23" fill="#f45050"/>
<rect x="1657" y="621" width="13" height="23" fill="#ecfd66"/>
<rect x="1745" y="621" width="16" height="23" fill="#5cb2f6"/>
<text class="s" transform="translate(0 638.31) scale(0.72 1)" x="2275.42 2310.42 2435 2629.58" font-size="14.1" text-anchor="middle" style="--c:#141414" opacity="0.85">AGCT</text>
<text class="m" transform="translate(1633 636.41) scale(1 1)" x="3.15" font-size="10.5" letter-spacing="6.3" style="--c:#1a1a1a" opacity="0.8"> · ······<tspan dx="1.5"> </tspan><tspan dx="1.5">·········· ··</tspan></text>
<text x="1953.4" y="637.93" class="v">125</text>
<text x="2004.9" y="637.93" class="v">2.4</text>
<text x="2058.1" y="637.93" class="v">0</text>
<text x="2110.3" y="637.93" class="v">0</text>
<rect x="1632" y="644" width="12" height="23" fill="#45ec30"/>
<rect x="1733" y="644" width="12" height="23" fill="#ecfd66"/>
<rect x="1836" y="644" width="13" height="23" fill="#f45050"/>
<text class="s" transform="translate(0 661.28) scale(0.72 1)" x="2275.42 2415.42 2559.58 2629.58" font-size="14.1" text-anchor="middle" style="--c:#141414" opacity="0.85">TGAA</text>
<text class="m" transform="translate(1633 659.38) scale(1 1)" x="3.15" font-size="10.5" letter-spacing="6.3" style="--c:#1a1a1a" opacity="0.8"> ······· <tspan dx="1.5">·</tspan><tspan dx="1.5">······ ··· ··</tspan></text>
<text x="1953.4" y="660.94" class="v">124</text>
<text x="2004.9" y="660.94" class="v">2.3</text>
<text x="2058.1" y="660.94" class="v">0</text>
<text x="2110.3" y="660.94" class="v">0</text>
<rect x="1682" y="667" width="13" height="23" fill="#45ec30"/>
<rect x="1707" y="667" width="13" height="23" fill="#f45050"/>
<rect x="1862" y="667" width="12" height="23" fill="#ecfd66"/>
<rect x="1874" y="667" width="13" height="23" fill="#f45050"/>
<rect x="1912" y="667" width="13" height="23" fill="#5cb2f6"/>
<text class="s" transform="translate(0 684.25) scale(0.72 1)" x="2345.42 2380.42 2594.58 2612.08 2629.58 2664.58" font-size="14.1" text-anchor="middle" style="--c:#141414" opacity="0.85">TAGAGC</text>
<text class="m" transform="translate(1633 682.35) scale(1 1)" x="3.15" font-size="10.5" letter-spacing="6.3" style="--c:#1a1a1a" opacity="0.8">···· · ··<tspan dx="1.5">·</tspan><tspan dx="1.5">········   ·</tspan></text>
<text x="1953.4" y="683.95" class="v">123</text>
<text x="2004.9" y="683.95" class="v">2.3</text>
<text x="2058.1" y="683.95" class="v">0</text>
<text x="2110.3" y="683.95" class="v">0</text>
<rect x="1632" y="690" width="12" height="23" fill="#45ec30"/>
<rect x="1733" y="690" width="12" height="23" fill="#45ec30"/>
<rect x="1836" y="690" width="13" height="23" fill="#45ec30"/>
<text class="s" transform="translate(0 707.22) scale(0.72 1)" x="2275.42 2415.42 2559.58 2629.58" font-size="14.1" text-anchor="middle" style="--c:#141414" opacity="0.85">TTTG</text>
<text class="m" transform="translate(1633 705.32) scale(1 1)" x="3.15" font-size="10.5" letter-spacing="6.3" style="--c:#1a1a1a" opacity="0.8"> ······· <tspan dx="1.5">·</tspan><tspan dx="1.5">······ ··· ··</tspan></text>
<text x="1953.4" y="706.96" class="v">122</text>
<text x="2004.9" y="706.96" class="v">2.3</text>
<text x="2058.1" y="706.96" class="v">0</text>
<text x="2110.3" y="706.96" class="v">0</text>
<rect x="1682" y="713" width="13" height="23" fill="#45ec30"/>
<rect x="1695" y="713" width="12" height="23" fill="#f45050"/>
<rect x="1874" y="713" width="13" height="23" fill="#5cb2f6"/>
<rect x="1912" y="713" width="13" height="23" fill="#f45050"/>
<text class="s" transform="translate(0 730.19) scale(0.72 1)" x="2345.42 2362.92 2612.08 2629.58 2664.58" font-size="14.1" text-anchor="middle" style="--c:#141414" opacity="0.85">TACGA</text>
<text class="m" transform="translate(1633 728.29) scale(1 1)" x="3.15" font-size="10.5" letter-spacing="6.3" style="--c:#1a1a1a" opacity="0.8">····  ···<tspan dx="1.5">·</tspan><tspan dx="1.5">·········  ·</tspan></text>
<text x="1953.4" y="729.97" class="v">121</text>
<text x="2004.9" y="729.97" class="v">2.3</text>
<text x="2058.1" y="729.97" class="v">0</text>
<text x="2110.3" y="729.97" class="v">0</text>
<rect x="1632" y="736" width="12" height="23" fill="#45ec30"/>
<rect x="1682" y="736" width="13" height="23" fill="#45ec30"/>
<rect x="1836" y="736" width="13" height="23" fill="#45ec30"/>
<text class="s" transform="translate(0 753.16) scale(0.72 1)" x="2275.42 2345.42 2559.58 2629.58" font-size="14.1" text-anchor="middle" style="--c:#141414" opacity="0.85">TTTT</text>
<text class="m" transform="translate(1633 751.26) scale(1 1)" x="3.15" font-size="10.5" letter-spacing="6.3" style="--c:#1a1a1a" opacity="0.8"> ··· ····<tspan dx="1.5">·</tspan><tspan dx="1.5">······ ··· ··</tspan></text>
<text x="1953.4" y="752.98" class="v">119</text>
<text x="2004.9" y="752.98" class="v">2.2</text>
<text x="2058.1" y="752.98" class="v">0</text>
<text x="2110.3" y="752.98" class="v">0</text>
<rect x="1632" y="759" width="12" height="23" fill="#45ec30"/>
<rect x="1682" y="759" width="13" height="23" fill="#45ec30"/>
<rect x="1836" y="759" width="13" height="23" fill="#45ec30"/>
<text class="s" transform="translate(0 776.13) scale(0.72 1)" x="2275.42 2345.42 2559.58 2629.58" font-size="14.1" text-anchor="middle" style="--c:#141414" opacity="0.85">TTTT</text>
<text class="m" transform="translate(1633 774.23) scale(1 1)" x="3.15" font-size="10.5" letter-spacing="6.3" style="--c:#1a1a1a" opacity="0.8"> ··· ····<tspan dx="1.5">·</tspan><tspan dx="1.5">······ ··· ··</tspan></text>
<text x="1953.4" y="775.99" class="v">119</text>
<text x="2004.9" y="775.99" class="v">2.2</text>
<text x="2058.1" y="775.99" class="v">0</text>
<text x="2110.3" y="775.99" class="v">0</text>
<rect x="1632" y="782" width="12" height="23" fill="#45ec30"/>
<rect x="1733" y="782" width="12" height="23" fill="#45ec30"/>
<rect x="1773" y="782" width="13" height="23" fill="#f45050"/>
<rect x="1836" y="782" width="13" height="23" fill="#45ec30"/>
<text class="s" transform="translate(0 799.1) scale(0.72 1)" x="2275.42 2415.42 2472.08 2559.58 2629.58" font-size="14.1" text-anchor="middle" style="--c:#141414" opacity="0.85">TTATG</text>
<text class="m" transform="translate(1633 797.2) scale(1 1)" x="3.15" font-size="10.5" letter-spacing="6.3" style="--c:#1a1a1a" opacity="0.8"> ······· <tspan dx="1.5">·</tspan><tspan dx="1.5">· ···· ··· ··</tspan></text>
<text x="1953.4" y="799" class="v">119</text>
<text x="2004.9" y="799" class="v">2.2</text>
<text x="2058.1" y="799" class="v">0</text>
<text x="2110.3" y="799" class="v">0</text>
<rect x="1720" y="805" width="13" height="23" fill="#f45050"/>
<rect x="1733" y="805" width="12" height="23" fill="#ecfd66"/>
<rect x="1836" y="805" width="13" height="23" fill="#45ec30"/>
<text class="s" transform="translate(0 822.07) scale(0.72 1)" x="2397.92 2415.42 2559.58 2629.58" font-size="14.1" text-anchor="middle" style="--c:#141414" opacity="0.85">AGTG</text>
<text class="m" transform="translate(1633 820.17) scale(1 1)" x="3.15" font-size="10.5" letter-spacing="6.3" style="--c:#1a1a1a" opacity="0.8">·······  <tspan dx="1.5">·</tspan><tspan dx="1.5">······ ··· ··</tspan></text>
<text x="1953.4" y="822.01" class="v">119</text>
<text x="2004.9" y="822.01" class="v">2.2</text>
<text x="2058.1" y="822.01" class="v">0</text>
<text x="2110.3" y="822.01" class="v">0</text>
<rect x="1682" y="828" width="13" height="23" fill="#45ec30"/>
<rect x="1836" y="828" width="13" height="23" fill="#45ec30"/>
<text class="s" transform="translate(0 845.04) scale(0.72 1)" x="2345.42 2559.58 2629.58" font-size="14.1" text-anchor="middle" style="--c:#141414" opacity="0.85">TTT</text>
<text class="m" transform="translate(1633 843.14) scale(1 1)" x="3.15" font-size="10.5" letter-spacing="6.3" style="--c:#1a1a1a" opacity="0.8">···· ····<tspan dx="1.5">·</tspan><tspan dx="1.5">······ ··· ··</tspan></text>
<text x="1953.4" y="845.02" class="v">118</text>
<text x="2004.9" y="845.02" class="v">2.2</text>
<text x="2058.1" y="845.02" class="v">0</text>
<text x="2110.3" y="845.02" class="v">0</text>
<rect x="1644" y="851" width="13" height="23" fill="#45ec30"/>
<rect x="1657" y="851" width="13" height="23" fill="#f45050"/>
<rect x="1733" y="851" width="12" height="23" fill="#45ec30"/>
<rect x="1786" y="851" width="13" height="23" fill="#f45050"/>
<rect x="1836" y="851" width="13" height="23" fill="#45ec30"/>
<rect x="1899" y="851" width="13" height="23" fill="#5cb2f6"/>
<text class="s" transform="translate(0 868.01) scale(0.72 1)" x="2292.92 2310.42 2415.42 2489.58 2559.58 2629.58 2647.08" font-size="14.1" text-anchor="middle" style="--c:#141414" opacity="0.85">TATATGC</text>
<text class="m" transform="translate(1633 866.11) scale(1 1)" x="3.15" font-size="10.5" letter-spacing="6.3" style="--c:#1a1a1a" opacity="0.8">·  ····· <tspan dx="1.5">·</tspan><tspan dx="1.5">·· ··· ···  ·</tspan></text>
<text x="1953.4" y="868.03" class="v">117</text>
<text x="2004.9" y="868.03" class="v">2.2</text>
<text x="2058.1" y="868.03" class="v">0</text>
<text x="2110.3" y="868.03" class="v">0</text>
<rect x="1657" y="874" width="13" height="23" fill="#f45050"/>
<rect x="1773" y="874" width="13" height="23" fill="#f45050"/>
<rect x="1836" y="874" width="13" height="23" fill="#45ec30"/>
<rect x="1912" y="874" width="13" height="23" fill="#45ec30"/>
<text class="s" transform="translate(0 890.98) scale(0.72 1)" x="2310.42 2472.08 2559.58 2629.58 2664.58" font-size="14.1" text-anchor="middle" style="--c:#141414" opacity="0.85">AATTT</text>
<text class="m" transform="translate(1633 889.08) scale(1 1)" x="3.15" font-size="10.5" letter-spacing="6.3" style="--c:#1a1a1a" opacity="0.8">·· ······<tspan dx="1.5">·</tspan><tspan dx="1.5">· ···· ··· ·</tspan></text>
<text x="1953.4" y="891.04" class="v">117</text>
<text x="2004.9" y="891.04" class="v">2.2</text>
<text x="2058.1" y="891.04" class="v">0</text>
<text x="2110.3" y="891.04" class="v">0</text>
<rect x="1632" y="897" width="12" height="23" fill="#f45050"/>
<rect x="1644" y="897" width="13" height="23" fill="#5cb2f6"/>
<rect x="1657" y="897" width="13" height="23" fill="#f45050"/>
<rect x="1799" y="897" width="12" height="23" fill="#f45050"/>
<rect x="1836" y="897" width="13" height="23" fill="#45ec30"/>
<text class="s" transform="translate(0 913.95) scale(0.72 1)" x="2275.42 2292.92 2310.42 2507.08 2559.58 2629.58" font-size="14.1" text-anchor="middle" style="--c:#141414" opacity="0.85">ACAATG</text>
<text class="m" transform="translate(1633 912.05) scale(1 1)" x="3.15" font-size="10.5" letter-spacing="6.3" style="--c:#1a1a1a" opacity="0.8">   ······<tspan dx="1.5">·</tspan><tspan dx="1.5">··· ·· ··· ··</tspan></text>
<text x="1953.4" y="914.05" class="v">116</text>
<text x="2004.9" y="914.05" class="v">2.2</text>
<text x="2058.1" y="914.05" class="v">0</text>
<text x="2110.3" y="914.05" class="v">0</text>
<rect x="1632" y="920" width="12" height="23" fill="#45ec30"/>
<rect x="1682" y="920" width="13" height="23" fill="#45ec30"/>
<rect x="1836" y="920" width="13" height="23" fill="#45ec30"/>
<text class="s" transform="translate(0 936.92) scale(0.72 1)" x="2275.42 2345.42 2559.58 2629.58" font-size="14.1" text-anchor="middle" style="--c:#141414" opacity="0.85">TTTT</text>
<text class="m" transform="translate(1633 935.02) scale(1 1)" x="3.15" font-size="10.5" letter-spacing="6.3" style="--c:#1a1a1a" opacity="0.8"> ··· ····<tspan dx="1.5">·</tspan><tspan dx="1.5">······ ··· ··</tspan></text>
<text x="1953.4" y="937.06" class="v">115</text>
<text x="2004.9" y="937.06" class="v">2.2</text>
<text x="2058.1" y="937.06" class="v">0</text>
<text x="2110.3" y="937.06" class="v">0</text>
<rect x="1632" y="943" width="25" height="23" fill="#f45050"/>
<rect x="1733" y="943" width="12" height="23" fill="#45ec30"/>
<rect x="1836" y="943" width="13" height="23" fill="#45ec30"/>
<text class="s" transform="translate(0 959.89) scale(0.72 1)" x="2275.42 2292.92 2415.42 2559.58 2629.58" font-size="14.1" text-anchor="middle" style="--c:#141414" opacity="0.85">AATTT</text>
<text class="m" transform="translate(1633 957.99) scale(1 1)" x="3.15" font-size="10.5" letter-spacing="6.3" style="--c:#1a1a1a" opacity="0.8">  ······ <tspan dx="1.5">·</tspan><tspan dx="1.5">······ ··· ··</tspan></text>
<text x="1953.4" y="960.07" class="v">113</text>
<text x="2004.9" y="960.07" class="v">2.1</text>
<text x="2058.1" y="960.07" class="v">0</text>
<text x="2110.3" y="960.07" class="v">0</text>
<rect x="1657" y="966" width="13" height="23" fill="#ecfd66"/>
<rect x="1695" y="966" width="12" height="23" fill="#f45050"/>
<rect x="1824" y="966" width="12" height="23" fill="#f45050"/>
<rect x="1836" y="966" width="13" height="23" fill="#45ec30"/>
<text class="s" transform="translate(0 982.86) scale(0.72 1)" x="2310.42 2362.92 2542.08 2559.58 2629.58" font-size="14.1" text-anchor="middle" style="--c:#141414" opacity="0.85">GAATA</text>
<text class="m" transform="translate(1633 980.96) scale(1 1)" x="3.15" font-size="10.5" letter-spacing="6.3" style="--c:#1a1a1a" opacity="0.8">·· ·· ···<tspan dx="1.5">·</tspan><tspan dx="1.5">·····  ··· ··</tspan></text>
<text x="1953.4" y="983.08" class="v">112</text>
<text x="2004.9" y="983.08" class="v">2.1</text>
<text x="2058.1" y="983.08" class="v">0</text>
<text x="2110.3" y="983.08" class="v">0</text>
<rect x="1644" y="989" width="13" height="23" fill="#f45050"/>
<rect x="1682" y="989" width="13" height="23" fill="#45ec30"/>
<rect x="1824" y="989" width="12" height="23" fill="#f45050"/>
<rect x="1849" y="989" width="13" height="23" fill="#f45050"/>
<text class="s" transform="translate(0 1005.83) scale(0.72 1)" x="2292.92 2345.42 2542.08 2577.08 2629.58" font-size="14.1" text-anchor="middle" style="--c:#141414" opacity="0.85">ATAAA</text>
<text class="m" transform="translate(1633 1003.93) scale(1 1)" x="3.15" font-size="10.5" letter-spacing="6.3" style="--c:#1a1a1a" opacity="0.8">· ·· ····<tspan dx="1.5">·</tspan><tspan dx="1.5">····· · ·· ··</tspan></text>
<text x="1953.4" y="1006.09" class="v">111</text>
<text x="2004.9" y="1006.09" class="v">2.1</text>
<text x="2058.1" y="1006.09" class="v">0</text>
<text x="2110.3" y="1006.09" class="v">0</text>
<rect x="1632" y="1012" width="12" height="23" fill="#f45050"/>
<rect x="1657" y="1012" width="13" height="23" fill="#f45050"/>
<rect x="1707" y="1012" width="13" height="23" fill="#f45050"/>
<rect x="1836" y="1012" width="13" height="23" fill="#45ec30"/>
<text class="s" transform="translate(0 1028.8) scale(0.72 1)" x="2275.42 2310.42 2380.42 2559.58 2629.58" font-size="14.1" text-anchor="middle" style="--c:#141414" opacity="0.85">AAATT</text>
<text class="m" transform="translate(1633 1026.9) scale(1 1)" x="3.15" font-size="10.5" letter-spacing="6.3" style="--c:#1a1a1a" opacity="0.8"> · ··· ··<tspan dx="1.5">·</tspan><tspan dx="1.5">······ ··· ··</tspan></text>
<text x="1953.4" y="1029.1" class="v">110</text>
<text x="2004.9" y="1029.1" class="v">2.1</text>
<text x="2058.1" y="1029.1" class="v">0</text>
<text x="2110.3" y="1029.1" class="v">0</text>
<rect x="1632" y="1035" width="12" height="23" fill="#45ec30"/>
<rect x="1733" y="1035" width="12" height="23" fill="#45ec30"/>
<rect x="1836" y="1035" width="13" height="23" fill="#45ec30"/>
<text class="s" transform="translate(0 1051.77) scale(0.72 1)" x="2275.42 2415.42 2559.58 2629.58" font-size="14.1" text-anchor="middle" style="--c:#141414" opacity="0.85">TTTT</text>
<text class="m" transform="translate(1633 1049.87) scale(1 1)" x="3.15" font-size="10.5" letter-spacing="6.3" style="--c:#1a1a1a" opacity="0.8"> ······· <tspan dx="1.5">·</tspan><tspan dx="1.5">······ ··· ··</tspan></text>
<text x="1953.4" y="1052.11" class="v">108</text>
<text x="2004.9" y="1052.11" class="v">2.0</text>
<text x="2058.1" y="1052.11" class="v">0</text>
<text x="2110.3" y="1052.11" class="v">0</text>
<rect x="1632" y="1058" width="12" height="23" fill="#45ec30"/>
<rect x="1682" y="1058" width="13" height="23" fill="#45ec30"/>
<rect x="1836" y="1058" width="13" height="23" fill="#ecfd66"/>
<rect x="1849" y="1058" width="13" height="23" fill="#45ec30"/>
<text class="s" transform="translate(0 1074.74) scale(0.72 1)" x="2275.42 2345.42 2559.58 2577.08 2629.58" font-size="14.1" text-anchor="middle" style="--c:#141414" opacity="0.85">TTGTG</text>
<text class="m" transform="translate(1633 1072.84) scale(1 1)" x="3.15" font-size="10.5" letter-spacing="6.3" style="--c:#1a1a1a" opacity="0.8"> ··· ····<tspan dx="1.5">·</tspan><tspan dx="1.5">······  ·· ··</tspan></text>
<text x="1953.4" y="1075.12" class="v">106</text>
<text x="2004.9" y="1075.12" class="v">2.0</text>
<text x="2058.1" y="1075.12" class="v">0</text>
<text x="2110.3" y="1075.12" class="v">0</text>
<rect x="1733" y="1081" width="12" height="23" fill="#5cb2f6"/>
<rect x="1745" y="1081" width="16" height="23" fill="#f45050"/>
<rect x="1761" y="1081" width="12" height="23" fill="#5cb2f6"/>
<rect x="1912" y="1081" width="13" height="23" fill="#45ec30"/>
<text class="s" transform="translate(0 1097.71) scale(0.72 1)" x="2415.42 2435 2454.58 2629.58 2664.58" font-size="14.1" text-anchor="middle" style="--c:#141414" opacity="0.85">CACGT</text>
<text class="m" transform="translate(1633 1095.81) scale(1 1)" x="3.15" font-size="10.5" letter-spacing="6.3" style="--c:#1a1a1a" opacity="0.8">········ <tspan dx="1.5"> </tspan><tspan dx="1.5"> ········· ·</tspan></text>
<text x="1953.4" y="1098.13" class="v">105</text>
<text x="2004.9" y="1098.13" class="v">2.0</text>
<text x="2058.1" y="1098.13" class="v">0</text>
<text x="2110.3" y="1098.13" class="v">0</text>
<rect x="1632" y="1104" width="12" height="23" fill="#45ec30"/>
<rect x="1695" y="1104" width="12" height="23" fill="#f45050"/>
<rect x="1707" y="1104" width="13" height="23" fill="#ecfd66"/>
<rect x="1836" y="1104" width="13" height="23" fill="#45ec30"/>
<text class="s" transform="translate(0 1120.68) scale(0.72 1)" x="2275.42 2362.92 2380.42 2559.58 2629.58" font-size="14.1" text-anchor="middle" style="--c:#141414" opacity="0.85">TAGTT</text>
<text class="m" transform="translate(1633 1118.78) scale(1 1)" x="3.15" font-size="10.5" letter-spacing="6.3" style="--c:#1a1a1a" opacity="0.8"> ····  ··<tspan dx="1.5">·</tspan><tspan dx="1.5">······ ··· ··</tspan></text>
<text x="1953.4" y="1121.14" class="v">104</text>
<text x="2004.9" y="1121.14" class="v">2.0</text>
<text x="2058.1" y="1121.14" class="v">0</text>
<text x="2110.3" y="1121.14" class="v">0</text>
<rect x="1632" y="1127" width="12" height="23" fill="#f45050"/>
<rect x="1682" y="1127" width="13" height="23" fill="#ecfd66"/>
<rect x="1836" y="1127" width="13" height="23" fill="#ecfd66"/>
<rect x="1849" y="1127" width="13" height="23" fill="#45ec30"/>
<rect x="1862" y="1127" width="12" height="23" fill="#f45050"/>
<rect x="1912" y="1127" width="13" height="23" fill="#f45050"/>
<text class="s" transform="translate(0 1143.65) scale(0.72 1)" x="2275.42 2345.42 2559.58 2577.08 2594.58 2629.58 2664.58" font-size="14.1" text-anchor="middle" style="--c:#141414" opacity="0.85">AGGTAGA</text>
<text class="m" transform="translate(1633 1141.75) scale(1 1)" x="3.15" font-size="10.5" letter-spacing="6.3" style="--c:#1a1a1a" opacity="0.8"> ··· ····<tspan dx="1.5">·</tspan><tspan dx="1.5">······   · ·</tspan></text>
<text x="1953.4" y="1144.15" class="v">104</text>
<text x="2004.9" y="1144.15" class="v">2.0</text>
<text x="2058.1" y="1144.15" class="v">0</text>
<text x="2110.3" y="1144.15" class="v">0</text>
<rect x="1632" y="1150" width="12" height="23" fill="#45ec30"/>
<rect x="1695" y="1150" width="12" height="23" fill="#f45050"/>
<rect x="1836" y="1150" width="13" height="23" fill="#45ec30"/>
<rect x="1899" y="1150" width="13" height="23" fill="#f45050"/>
<rect x="1912" y="1150" width="13" height="23" fill="#5cb2f6"/>
<text class="s" transform="translate(0 1166.62) scale(0.72 1)" x="2275.42 2362.92 2559.58 2629.58 2647.08 2664.58" font-size="14.1" text-anchor="middle" style="--c:#141414" opacity="0.85">TATGAC</text>
<text class="m" transform="translate(1633 1164.72) scale(1 1)" x="3.15" font-size="10.5" letter-spacing="6.3" style="--c:#1a1a1a" opacity="0.8"> ···· ···<tspan dx="1.5">·</tspan><tspan dx="1.5">······ ···</tspan></text>
<text x="1953.4" y="1167.16" class="v">103</text>
<text x="2004.9" y="1167.16" class="v">1.9</text>
<text x="2058.1" y="1167.16" class="v">0</text>
<text x="2110.3" y="1167.16" class="v">0</text>
<rect x="1695" y="1173" width="12" height="23" fill="#f45050"/>
<rect x="1745" y="1173" width="16" height="23" fill="#5cb2f6"/>
<rect x="1849" y="1173" width="13" height="23" fill="#45ec30"/>
<rect x="1862" y="1173" width="12" height="23" fill="#ecfd66"/>
<rect x="1874" y="1173" width="13" height="23" fill="#5cb2f6"/>
<text class="s" transform="translate(0 1189.59) scale(0.72 1)" x="2362.92 2435 2577.08 2594.58 2612.08 2629.58" font-size="14.1" text-anchor="middle" style="--c:#141414" opacity="0.85">ACTGCG</text>
<text class="m" transform="translate(1633 1187.69) scale(1 1)" x="3.15" font-size="10.5" letter-spacing="6.3" style="--c:#1a1a1a" opacity="0.8">····· ···<tspan dx="1.5"> </tspan><tspan dx="1.5">·······    ··</tspan></text>
<text x="1953.4" y="1190.17" class="v">103</text>
<text x="2004.9" y="1190.17" class="v">1.9</text>
<text x="2058.1" y="1190.17" class="v">0</text>
<text x="2110.3" y="1190.17" class="v">0</text>
<rect x="1644" y="1196" width="13" height="23" fill="#f45050"/>
<rect x="1733" y="1196" width="12" height="23" fill="#45ec30"/>
<rect x="1836" y="1196" width="13" height="23" fill="#45ec30"/>
<text class="s" transform="translate(0 1212.56) scale(0.72 1)" x="2292.92 2415.42 2559.58 2629.58" font-size="14.1" text-anchor="middle" style="--c:#141414" opacity="0.85">ATTA</text>
<text class="m" transform="translate(1633 1210.66) scale(1 1)" x="3.15" font-size="10.5" letter-spacing="6.3" style="--c:#1a1a1a" opacity="0.8">· ······ <tspan dx="1.5">·</tspan><tspan dx="1.5">······ ··· ··</tspan></text>
<text x="1953.4" y="1213.18" class="v">103</text>
<text x="2004.9" y="1213.18" class="v">1.9</text>
<text x="2058.1" y="1213.18" class="v">0</text>
<text x="2110.3" y="1213.18" class="v">0</text>
<rect x="1632" y="1219" width="12" height="23" fill="#45ec30"/>
<rect x="1682" y="1219" width="13" height="23" fill="#45ec30"/>
<rect x="1836" y="1219" width="13" height="23" fill="#ecfd66"/>
<rect x="1849" y="1219" width="13" height="23" fill="#45ec30"/>
<rect x="1862" y="1219" width="12" height="23" fill="#ecfd66"/>
<rect x="1874" y="1219" width="13" height="23" fill="#45ec30"/>
<text class="s" transform="translate(0 1235.53) scale(0.72 1)" x="2275.42 2345.42 2559.58 2577.08 2594.58 2612.08 2629.58" font-size="14.1" text-anchor="middle" style="--c:#141414" opacity="0.85">TTGTGTG</text>
<text class="m" transform="translate(1633 1233.63) scale(1 1)" x="3.15" font-size="10.5" letter-spacing="6.3" style="--c:#1a1a1a" opacity="0.8"> ··· ····<tspan dx="1.5">·</tspan><tspan dx="1.5">······     ··</tspan></text>
<text x="1953.4" y="1236.19" class="v">102</text>
<text x="2004.9" y="1236.19" class="v">1.9</text>
<text x="2058.1" y="1236.19" class="v">0</text>
<text x="2110.3" y="1236.19" class="v">0</text>
<rect x="1632" y="1242" width="12" height="23" fill="#45ec30"/>
<rect x="1733" y="1242" width="12" height="23" fill="#45ec30"/>
<rect x="1836" y="1242" width="13" height="23" fill="#f45050"/>
<rect x="1862" y="1242" width="12" height="23" fill="#f45050"/>
<rect x="1899" y="1242" width="13" height="23" fill="#f45050"/>
<rect x="1912" y="1242" width="13" height="23" fill="#5cb2f6"/>
<text class="s" transform="translate(0 1258.5) scale(0.72 1)" x="2275.42 2415.42 2559.58 2594.58 2629.58 2647.08 2664.58" font-size="14.1" text-anchor="middle" style="--c:#141414" opacity="0.85">TTAAGAC</text>
<text class="m" transform="translate(1633 1256.6) scale(1 1)" x="3.15" font-size="10.5" letter-spacing="6.3" style="--c:#1a1a1a" opacity="0.8"> ······· <tspan dx="1.5">·</tspan><tspan dx="1.5">······ · ·</tspan></text>
<text x="1953.4" y="1259.2" class="v">102</text>
<text x="2004.9" y="1259.2" class="v">1.9</text>
<text x="2058.1" y="1259.2" class="v">0</text>
<text x="2110.3" y="1259.2" class="v">0</text>
<rect x="1632" y="1265" width="12" height="23" fill="#5cb2f6"/>
<rect x="1695" y="1265" width="12" height="23" fill="#f45050"/>
<rect x="1811" y="1265" width="25" height="23" fill="#f45050"/>
<rect x="1836" y="1265" width="13" height="23" fill="#45ec30"/>
<text class="s" transform="translate(0 1281.47) scale(0.72 1)" x="2275.42 2362.92 2524.58 2542.08 2559.58 2629.58" font-size="14.1" text-anchor="middle" style="--c:#141414" opacity="0.85">CAAATG</text>
<text class="m" transform="translate(1633 1279.57) scale(1 1)" x="3.15" font-size="10.5" letter-spacing="6.3" style="--c:#1a1a1a" opacity="0.8"> ···· ···<tspan dx="1.5">·</tspan><tspan dx="1.5">····   ··· ··</tspan></text>
<text x="1953.4" y="1282.21" class="v">102</text>
<text x="2004.9" y="1282.21" class="v">1.9</text>
<text x="2058.1" y="1282.21" class="v">0</text>
<text x="2110.3" y="1282.21" class="v">0</text>
<rect x="1632" y="1288" width="12" height="23" fill="#5cb2f6"/>
<rect x="1644" y="1288" width="13" height="23" fill="#f45050"/>
<rect x="1733" y="1288" width="12" height="23" fill="#45ec30"/>
<rect x="1849" y="1288" width="13" height="23" fill="#45ec30"/>
<text class="s" transform="translate(0 1304.44) scale(0.72 1)" x="2275.42 2292.92 2415.42 2577.08 2629.58" font-size="14.1" text-anchor="middle" style="--c:#141414" opacity="0.85">CATTT</text>
<text class="m" transform="translate(1633 1302.54) scale(1 1)" x="3.15" font-size="10.5" letter-spacing="6.3" style="--c:#1a1a1a" opacity="0.8">  ······ <tspan dx="1.5">·</tspan><tspan dx="1.5">······· ·· ··</tspan></text>
<text x="1953.4" y="1305.22" class="v">102</text>
<text x="2004.9" y="1305.22" class="v">1.9</text>
<text x="2058.1" y="1305.22" class="v">0</text>
<text x="2110.3" y="1305.22" class="v">0</text>
<rect x="1632" y="1311" width="12" height="22" fill="#45ec30"/>
<rect x="1682" y="1311" width="25" height="22" fill="#45ec30"/>
<rect x="1733" y="1311" width="12" height="22" fill="#45ec30"/>
<rect x="1849" y="1311" width="13" height="22" fill="#f45050"/>
<rect x="1899" y="1311" width="13" height="22" fill="#45ec30"/>
<text class="s" transform="translate(0 1327.41) scale(0.72 1)" x="2275.42 2345.42 2362.92 2415.42 2577.08 2629.58 2647.08" font-size="14.1" text-anchor="middle" style="--c:#141414" opacity="0.85">TTTTATT</text>
<text class="m" transform="translate(1633 1325.51) scale(1 1)" x="3.15" font-size="10.5" letter-spacing="6.3" style="--c:#1a1a1a" opacity="0.8"> ···  ·· <tspan dx="1.5">·</tspan><tspan dx="1.5">······· ··  ·</tspan></text>
<text x="1953.4" y="1328.23" class="v">101</text>
<text x="2004.9" y="1328.23" class="v">1.9</text>
<text x="2058.1" y="1328.23" class="v">0</text>
<text x="2110.3" y="1328.23" class="v">0</text>
<rect x="1644" y="1333" width="13" height="23" fill="#5cb2f6"/>
<rect x="1657" y="1333" width="13" height="23" fill="#f45050"/>
<rect x="1836" y="1333" width="13" height="23" fill="#45ec30"/>
<rect x="1874" y="1333" width="13" height="23" fill="#45ec30"/>
<text class="s" transform="translate(0 1350.38) scale(0.72 1)" x="2292.92 2310.42 2559.58 2612.08 2629.58" font-size="14.1" text-anchor="middle" style="--c:#141414" opacity="0.85">CATTG</text>
<text class="m" transform="translate(1633 1348.48) scale(1 1)" x="3.15" font-size="10.5" letter-spacing="6.3" style="--c:#1a1a1a" opacity="0.8">·  ······<tspan dx="1.5">·</tspan><tspan dx="1.5">······ ··  ··</tspan></text>
<text x="1953.4" y="1351.24" class="v">101</text>
<text x="2004.9" y="1351.24" class="v">1.9</text>
<text x="2058.1" y="1351.24" class="v">0</text>
<text x="2110.3" y="1351.24" class="v">0</text>
</svg>
</body></html>
